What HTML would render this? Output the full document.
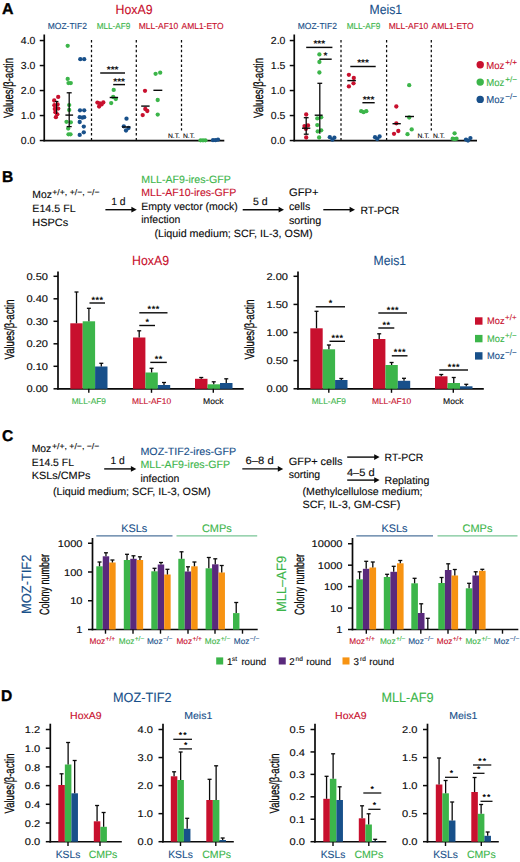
<!DOCTYPE html>
<html lang="en"><head><meta charset="utf-8"><title>Figure</title>
<style>
html,body{margin:0;padding:0;background:#fff;}
svg{display:block;font-family:"Liberation Sans",sans-serif;text-rendering:geometricPrecision;}
</style></head><body>
<svg width="520" height="862" viewBox="0 0 520 862">
<rect width="520" height="862" fill="#fff"/>
<text x="1.90" y="13.80" font-size="15.6" fill="#000" textLength="11.50" lengthAdjust="spacingAndGlyphs" font-weight="bold" stroke="#000" stroke-width="0.35">A</text>
<text x="115.50" y="13.90" font-size="13.2" fill="#C8102E" textLength="37.00" lengthAdjust="spacingAndGlyphs" stroke="#C8102E" stroke-width="0.12">HoxA9</text>
<text x="47.70" y="29.40" font-size="8.8" fill="#18508A" textLength="39.20" lengthAdjust="spacingAndGlyphs" stroke="#18508A" stroke-width="0.12">MOZ-TIF2</text>
<text x="96.70" y="29.40" font-size="8.8" fill="#3CB54A" textLength="33.70" lengthAdjust="spacingAndGlyphs" stroke="#3CB54A" stroke-width="0.12">MLL-AF9</text>
<text x="138.70" y="29.40" font-size="8.8" fill="#C8102E" textLength="39.60" lengthAdjust="spacingAndGlyphs" stroke="#C8102E" stroke-width="0.12">MLL-AF10</text>
<text x="181.50" y="29.40" font-size="8.8" fill="#C8102E" textLength="42.20" lengthAdjust="spacingAndGlyphs" stroke="#C8102E" stroke-width="0.12">AML1-ETO</text>
<line x1="44.25" y1="34.50" x2="44.25" y2="141.35" stroke="#0a0a0a" stroke-width="1.7"/>
<line x1="39.75" y1="40.55" x2="44.25" y2="40.55" stroke="#0a0a0a" stroke-width="1.5"/>
<text x="35.45" y="44.15" font-size="10.2" fill="#0a0a0a" text-anchor="end" textLength="14.60" lengthAdjust="spacingAndGlyphs" stroke="#0a0a0a" stroke-width="0.12">4.0</text>
<line x1="39.75" y1="65.55" x2="44.25" y2="65.55" stroke="#0a0a0a" stroke-width="1.5"/>
<text x="35.45" y="69.15" font-size="10.2" fill="#0a0a0a" text-anchor="end" textLength="14.60" lengthAdjust="spacingAndGlyphs" stroke="#0a0a0a" stroke-width="0.12">3.0</text>
<line x1="39.75" y1="90.55" x2="44.25" y2="90.55" stroke="#0a0a0a" stroke-width="1.5"/>
<text x="35.45" y="94.15" font-size="10.2" fill="#0a0a0a" text-anchor="end" textLength="14.60" lengthAdjust="spacingAndGlyphs" stroke="#0a0a0a" stroke-width="0.12">2.0</text>
<line x1="39.75" y1="115.55" x2="44.25" y2="115.55" stroke="#0a0a0a" stroke-width="1.5"/>
<text x="35.45" y="119.15" font-size="10.2" fill="#0a0a0a" text-anchor="end" textLength="14.60" lengthAdjust="spacingAndGlyphs" stroke="#0a0a0a" stroke-width="0.12">1.0</text>
<line x1="39.75" y1="140.55" x2="44.25" y2="140.55" stroke="#0a0a0a" stroke-width="1.5"/>
<text x="35.45" y="144.15" font-size="10.2" fill="#0a0a0a" text-anchor="end" textLength="14.60" lengthAdjust="spacingAndGlyphs" stroke="#0a0a0a" stroke-width="0.12">0.0</text>
<line x1="43.45" y1="140.55" x2="224.30" y2="140.55" stroke="#0a0a0a" stroke-width="1.65"/>
<text x="0" y="0" transform="translate(12.80 88.00) rotate(-90)" font-size="13.4" fill="#0a0a0a" text-anchor="middle" textLength="60.00" lengthAdjust="spacingAndGlyphs" stroke="#0a0a0a" stroke-width="0.3">Values/β-actin</text>
<line x1="91.50" y1="40.00" x2="91.50" y2="140.55" stroke="#0a0a0a" stroke-width="1.25" stroke-dasharray="2.5 2.4"/>
<line x1="136.30" y1="40.00" x2="136.30" y2="140.55" stroke="#0a0a0a" stroke-width="1.25" stroke-dasharray="2.5 2.4"/>
<line x1="181.50" y1="40.00" x2="181.50" y2="130.50" stroke="#0a0a0a" stroke-width="1.25" stroke-dasharray="2.5 2.4"/>
<circle cx="58.20" cy="96.90" r="2.15" fill="#C8102E"/>
<circle cx="54.20" cy="100.50" r="2.15" fill="#C8102E"/>
<circle cx="54.40" cy="105.20" r="2.15" fill="#C8102E"/>
<circle cx="58.20" cy="108.60" r="2.15" fill="#C8102E"/>
<circle cx="54.80" cy="109.00" r="2.15" fill="#C8102E"/>
<circle cx="55.40" cy="112.20" r="2.15" fill="#C8102E"/>
<circle cx="57.30" cy="114.30" r="2.15" fill="#C8102E"/>
<circle cx="55.90" cy="117.20" r="2.15" fill="#C8102E"/>
<circle cx="57.60" cy="104.50" r="2.15" fill="#C8102E"/>
<line x1="56.60" y1="101.50" x2="56.60" y2="114.00" stroke="#0a0a0a" stroke-width="1.2"/>
<line x1="54.90" y1="101.50" x2="58.40" y2="101.50" stroke="#0a0a0a" stroke-width="1.2"/>
<circle cx="67.70" cy="45.80" r="2.15" fill="#3CB54A"/>
<circle cx="67.70" cy="78.90" r="2.15" fill="#3CB54A"/>
<circle cx="68.50" cy="83.10" r="2.15" fill="#3CB54A"/>
<circle cx="70.80" cy="83.10" r="2.15" fill="#3CB54A"/>
<circle cx="69.20" cy="105.10" r="2.15" fill="#3CB54A"/>
<circle cx="69.20" cy="110.00" r="2.15" fill="#3CB54A"/>
<circle cx="66.50" cy="121.80" r="2.15" fill="#3CB54A"/>
<circle cx="70.80" cy="122.30" r="2.15" fill="#3CB54A"/>
<circle cx="68.20" cy="128.50" r="2.15" fill="#3CB54A"/>
<circle cx="68.50" cy="134.30" r="2.15" fill="#3CB54A"/>
<circle cx="70.50" cy="134.30" r="2.15" fill="#3CB54A"/>
<line x1="69.20" y1="92.80" x2="69.20" y2="126.60" stroke="#0a0a0a" stroke-width="1.3"/>
<line x1="66.70" y1="92.80" x2="71.70" y2="92.80" stroke="#0a0a0a" stroke-width="1.3"/>
<line x1="66.70" y1="126.60" x2="71.70" y2="126.60" stroke="#0a0a0a" stroke-width="1.3"/>
<line x1="65.40" y1="115.10" x2="73.10" y2="115.10" stroke="#0a0a0a" stroke-width="1.4"/>
<circle cx="80.30" cy="59.20" r="2.15" fill="#18508A"/>
<circle cx="84.20" cy="59.20" r="2.15" fill="#18508A"/>
<circle cx="80.00" cy="110.30" r="2.15" fill="#18508A"/>
<circle cx="84.20" cy="110.30" r="2.15" fill="#18508A"/>
<circle cx="79.70" cy="117.20" r="2.15" fill="#18508A"/>
<circle cx="82.30" cy="117.70" r="2.15" fill="#18508A"/>
<circle cx="84.20" cy="117.20" r="2.15" fill="#18508A"/>
<circle cx="79.70" cy="122.00" r="2.15" fill="#18508A"/>
<circle cx="83.80" cy="126.60" r="2.15" fill="#18508A"/>
<circle cx="83.80" cy="132.30" r="2.15" fill="#18508A"/>
<circle cx="79.70" cy="134.90" r="2.15" fill="#18508A"/>
<circle cx="97.40" cy="102.60" r="2.15" fill="#C8102E"/>
<circle cx="99.90" cy="103.40" r="2.15" fill="#C8102E"/>
<circle cx="103.30" cy="102.40" r="2.15" fill="#C8102E"/>
<circle cx="101.60" cy="104.40" r="2.15" fill="#C8102E"/>
<circle cx="99.10" cy="106.50" r="2.15" fill="#C8102E"/>
<circle cx="113.70" cy="89.90" r="2.15" fill="#3CB54A"/>
<circle cx="113.20" cy="97.00" r="2.15" fill="#3CB54A"/>
<circle cx="115.80" cy="99.00" r="2.15" fill="#3CB54A"/>
<circle cx="111.20" cy="103.10" r="2.15" fill="#3CB54A"/>
<line x1="109.70" y1="97.50" x2="118.10" y2="97.50" stroke="#0a0a0a" stroke-width="1.4"/>
<circle cx="126.50" cy="118.70" r="2.15" fill="#18508A"/>
<circle cx="123.80" cy="126.30" r="2.15" fill="#18508A"/>
<circle cx="128.50" cy="128.00" r="2.15" fill="#18508A"/>
<circle cx="126.00" cy="130.50" r="2.15" fill="#18508A"/>
<line x1="122.00" y1="127.00" x2="130.40" y2="127.00" stroke="#0a0a0a" stroke-width="1.4"/>
<line x1="100.20" y1="73.00" x2="125.00" y2="73.00" stroke="#0a0a0a" stroke-width="1.45"/>
<text x="112.60" y="72.90" font-size="10.0" fill="#0a0a0a" text-anchor="middle" font-weight="bold" textLength="11.69" lengthAdjust="spacing">***</text>
<line x1="113.20" y1="84.60" x2="125.00" y2="84.60" stroke="#0a0a0a" stroke-width="1.45"/>
<text x="119.10" y="84.50" font-size="10.0" fill="#0a0a0a" text-anchor="middle" font-weight="bold" textLength="11.69" lengthAdjust="spacing">***</text>
<circle cx="145.00" cy="90.80" r="2.15" fill="#C8102E"/>
<circle cx="145.30" cy="109.00" r="2.15" fill="#C8102E"/>
<circle cx="147.30" cy="111.00" r="2.15" fill="#C8102E"/>
<circle cx="142.70" cy="115.10" r="2.15" fill="#C8102E"/>
<line x1="141.20" y1="106.10" x2="149.60" y2="106.10" stroke="#0a0a0a" stroke-width="1.4"/>
<circle cx="155.60" cy="73.80" r="2.15" fill="#3CB54A"/>
<circle cx="160.20" cy="72.70" r="2.15" fill="#3CB54A"/>
<circle cx="157.70" cy="100.00" r="2.15" fill="#3CB54A"/>
<circle cx="157.70" cy="114.60" r="2.15" fill="#3CB54A"/>
<line x1="153.40" y1="90.30" x2="162.30" y2="90.30" stroke="#0a0a0a" stroke-width="1.4"/>
<text x="168.00" y="137.70" font-size="6.6" fill="#0a0a0a" textLength="12.00" lengthAdjust="spacingAndGlyphs" stroke="#0a0a0a" stroke-width="0.12">N.T.</text>
<text x="183.00" y="137.70" font-size="6.6" fill="#0a0a0a" textLength="12.00" lengthAdjust="spacingAndGlyphs" stroke="#0a0a0a" stroke-width="0.12">N.T.</text>
<circle cx="200.60" cy="140.30" r="2.15" fill="#3CB54A"/>
<circle cx="203.00" cy="140.30" r="2.15" fill="#3CB54A"/>
<circle cx="205.40" cy="140.30" r="2.15" fill="#3CB54A"/>
<circle cx="213.00" cy="140.20" r="2.15" fill="#18508A"/>
<circle cx="215.50" cy="140.20" r="2.15" fill="#18508A"/>
<circle cx="218.00" cy="139.60" r="2.15" fill="#18508A"/>
<text x="369.50" y="13.90" font-size="13.2" fill="#18508A" textLength="32.50" lengthAdjust="spacingAndGlyphs" stroke="#18508A" stroke-width="0.12">Meis1</text>
<text x="297.70" y="29.40" font-size="8.8" fill="#18508A" textLength="39.20" lengthAdjust="spacingAndGlyphs" stroke="#18508A" stroke-width="0.12">MOZ-TIF2</text>
<text x="346.70" y="29.40" font-size="8.8" fill="#3CB54A" textLength="33.70" lengthAdjust="spacingAndGlyphs" stroke="#3CB54A" stroke-width="0.12">MLL-AF9</text>
<text x="388.70" y="29.40" font-size="8.8" fill="#C8102E" textLength="39.60" lengthAdjust="spacingAndGlyphs" stroke="#C8102E" stroke-width="0.12">MLL-AF10</text>
<text x="431.50" y="29.40" font-size="8.8" fill="#C8102E" textLength="42.20" lengthAdjust="spacingAndGlyphs" stroke="#C8102E" stroke-width="0.12">AML1-ETO</text>
<line x1="294.25" y1="34.50" x2="294.25" y2="141.35" stroke="#0a0a0a" stroke-width="1.7"/>
<line x1="289.75" y1="40.55" x2="294.25" y2="40.55" stroke="#0a0a0a" stroke-width="1.5"/>
<text x="285.45" y="44.15" font-size="10.2" fill="#0a0a0a" text-anchor="end" textLength="14.60" lengthAdjust="spacingAndGlyphs" stroke="#0a0a0a" stroke-width="0.12">2.0</text>
<line x1="289.75" y1="65.55" x2="294.25" y2="65.55" stroke="#0a0a0a" stroke-width="1.5"/>
<text x="285.45" y="69.15" font-size="10.2" fill="#0a0a0a" text-anchor="end" textLength="14.60" lengthAdjust="spacingAndGlyphs" stroke="#0a0a0a" stroke-width="0.12">1.5</text>
<line x1="289.75" y1="90.55" x2="294.25" y2="90.55" stroke="#0a0a0a" stroke-width="1.5"/>
<text x="285.45" y="94.15" font-size="10.2" fill="#0a0a0a" text-anchor="end" textLength="14.60" lengthAdjust="spacingAndGlyphs" stroke="#0a0a0a" stroke-width="0.12">1.0</text>
<line x1="289.75" y1="115.55" x2="294.25" y2="115.55" stroke="#0a0a0a" stroke-width="1.5"/>
<text x="285.45" y="119.15" font-size="10.2" fill="#0a0a0a" text-anchor="end" textLength="14.60" lengthAdjust="spacingAndGlyphs" stroke="#0a0a0a" stroke-width="0.12">0.5</text>
<line x1="289.75" y1="140.55" x2="294.25" y2="140.55" stroke="#0a0a0a" stroke-width="1.5"/>
<text x="285.45" y="144.15" font-size="10.2" fill="#0a0a0a" text-anchor="end" textLength="14.60" lengthAdjust="spacingAndGlyphs" stroke="#0a0a0a" stroke-width="0.12">0.0</text>
<line x1="293.45" y1="140.55" x2="477.00" y2="140.55" stroke="#0a0a0a" stroke-width="1.65"/>
<text x="0" y="0" transform="translate(262.80 88.00) rotate(-90)" font-size="13.4" fill="#0a0a0a" text-anchor="middle" textLength="60.00" lengthAdjust="spacingAndGlyphs" stroke="#0a0a0a" stroke-width="0.3">Values/β-actin</text>
<line x1="341.00" y1="40.00" x2="341.00" y2="140.55" stroke="#0a0a0a" stroke-width="1.25" stroke-dasharray="2.5 2.4"/>
<line x1="386.60" y1="40.00" x2="386.60" y2="140.55" stroke="#0a0a0a" stroke-width="1.25" stroke-dasharray="2.5 2.4"/>
<line x1="431.30" y1="40.00" x2="431.30" y2="130.50" stroke="#0a0a0a" stroke-width="1.25" stroke-dasharray="2.5 2.4"/>
<circle cx="306.20" cy="114.50" r="2.15" fill="#C8102E"/>
<circle cx="304.50" cy="126.10" r="2.15" fill="#C8102E"/>
<circle cx="308.00" cy="125.40" r="2.15" fill="#C8102E"/>
<circle cx="305.90" cy="128.90" r="2.15" fill="#C8102E"/>
<circle cx="306.20" cy="137.50" r="2.15" fill="#C8102E"/>
<line x1="306.20" y1="117.70" x2="306.20" y2="134.20" stroke="#0a0a0a" stroke-width="1.3"/>
<line x1="303.80" y1="117.70" x2="308.60" y2="117.70" stroke="#0a0a0a" stroke-width="1.3"/>
<line x1="303.80" y1="134.20" x2="308.60" y2="134.20" stroke="#0a0a0a" stroke-width="1.3"/>
<line x1="302.00" y1="128.20" x2="310.30" y2="128.20" stroke="#0a0a0a" stroke-width="1.4"/>
<circle cx="319.40" cy="54.40" r="2.15" fill="#3CB54A"/>
<circle cx="319.40" cy="62.00" r="2.15" fill="#3CB54A"/>
<circle cx="319.40" cy="72.50" r="2.15" fill="#3CB54A"/>
<circle cx="317.30" cy="118.40" r="2.15" fill="#3CB54A"/>
<circle cx="321.20" cy="117.30" r="2.15" fill="#3CB54A"/>
<circle cx="317.30" cy="125.10" r="2.15" fill="#3CB54A"/>
<circle cx="317.70" cy="131.40" r="2.15" fill="#3CB54A"/>
<circle cx="321.20" cy="130.30" r="2.15" fill="#3CB54A"/>
<circle cx="319.10" cy="137.50" r="2.15" fill="#3CB54A"/>
<line x1="319.80" y1="83.30" x2="319.80" y2="133.80" stroke="#0a0a0a" stroke-width="1.3"/>
<line x1="317.40" y1="83.30" x2="322.20" y2="83.30" stroke="#0a0a0a" stroke-width="1.3"/>
<line x1="314.70" y1="115.20" x2="322.60" y2="115.20" stroke="#0a0a0a" stroke-width="1.4"/>
<circle cx="329.80" cy="137.20" r="2.15" fill="#18508A"/>
<circle cx="334.40" cy="137.70" r="2.15" fill="#18508A"/>
<circle cx="332.40" cy="139.70" r="2.15" fill="#18508A"/>
<line x1="306.20" y1="47.40" x2="332.40" y2="47.40" stroke="#0a0a0a" stroke-width="1.45"/>
<text x="319.30" y="47.30" font-size="10.0" fill="#0a0a0a" text-anchor="middle" font-weight="bold" textLength="11.69" lengthAdjust="spacing">***</text>
<line x1="319.40" y1="59.20" x2="331.70" y2="59.20" stroke="#0a0a0a" stroke-width="1.45"/>
<text x="325.55" y="59.10" font-size="10.0" fill="#0a0a0a" text-anchor="middle" font-weight="bold">*</text>
<circle cx="348.90" cy="74.80" r="2.15" fill="#C8102E"/>
<circle cx="353.80" cy="78.00" r="2.15" fill="#C8102E"/>
<circle cx="353.50" cy="83.30" r="2.15" fill="#C8102E"/>
<circle cx="348.90" cy="86.40" r="2.15" fill="#C8102E"/>
<line x1="347.30" y1="80.60" x2="355.90" y2="80.60" stroke="#0a0a0a" stroke-width="1.4"/>
<circle cx="361.20" cy="111.20" r="2.15" fill="#3CB54A"/>
<circle cx="363.60" cy="112.20" r="2.15" fill="#3CB54A"/>
<circle cx="366.30" cy="111.20" r="2.15" fill="#3CB54A"/>
<circle cx="375.00" cy="137.20" r="2.15" fill="#18508A"/>
<circle cx="379.60" cy="136.50" r="2.15" fill="#18508A"/>
<circle cx="377.20" cy="139.00" r="2.15" fill="#18508A"/>
<line x1="350.30" y1="66.50" x2="375.70" y2="66.50" stroke="#0a0a0a" stroke-width="1.45"/>
<text x="363.00" y="66.40" font-size="10.0" fill="#0a0a0a" text-anchor="middle" font-weight="bold" textLength="11.69" lengthAdjust="spacing">***</text>
<line x1="362.40" y1="102.70" x2="374.70" y2="102.70" stroke="#0a0a0a" stroke-width="1.45"/>
<text x="368.55" y="102.60" font-size="10.0" fill="#0a0a0a" text-anchor="middle" font-weight="bold" textLength="11.69" lengthAdjust="spacing">***</text>
<circle cx="396.30" cy="106.50" r="2.15" fill="#C8102E"/>
<circle cx="396.30" cy="123.30" r="2.15" fill="#C8102E"/>
<circle cx="398.30" cy="131.00" r="2.15" fill="#C8102E"/>
<circle cx="394.00" cy="133.80" r="2.15" fill="#C8102E"/>
<line x1="392.50" y1="123.70" x2="400.80" y2="123.70" stroke="#0a0a0a" stroke-width="1.4"/>
<circle cx="409.20" cy="85.20" r="2.15" fill="#3CB54A"/>
<circle cx="409.20" cy="117.50" r="2.15" fill="#3CB54A"/>
<circle cx="411.70" cy="129.40" r="2.15" fill="#3CB54A"/>
<circle cx="407.50" cy="134.20" r="2.15" fill="#3CB54A"/>
<line x1="405.00" y1="116.50" x2="414.00" y2="116.50" stroke="#0a0a0a" stroke-width="1.4"/>
<text x="417.50" y="137.70" font-size="6.6" fill="#0a0a0a" textLength="12.00" lengthAdjust="spacingAndGlyphs" stroke="#0a0a0a" stroke-width="0.12">N.T.</text>
<text x="432.90" y="137.70" font-size="6.6" fill="#0a0a0a" textLength="12.00" lengthAdjust="spacingAndGlyphs" stroke="#0a0a0a" stroke-width="0.12">N.T.</text>
<circle cx="454.60" cy="133.30" r="2.15" fill="#3CB54A"/>
<circle cx="452.70" cy="138.70" r="2.15" fill="#3CB54A"/>
<circle cx="456.50" cy="138.70" r="2.15" fill="#3CB54A"/>
<circle cx="454.60" cy="139.20" r="2.15" fill="#3CB54A"/>
<circle cx="466.00" cy="139.60" r="2.15" fill="#18508A"/>
<circle cx="470.40" cy="138.10" r="2.15" fill="#18508A"/>
<circle cx="468.00" cy="140.60" r="2.15" fill="#18508A"/>
<circle cx="480.20" cy="64.80" r="3.7" fill="#C8102E"/>
<text x="486.30" y="68.80" font-size="10.2" fill="#C8102E" textLength="18.10" lengthAdjust="spacingAndGlyphs" stroke="#C8102E" stroke-width="0.12">Moz</text>
<text x="505.20" y="64.72" font-size="8" fill="#C8102E" textLength="11.80" lengthAdjust="spacingAndGlyphs" stroke="#C8102E" stroke-width="0.12">+/+</text>
<circle cx="480.20" cy="82.10" r="3.7" fill="#3CB54A"/>
<text x="486.30" y="86.10" font-size="10.2" fill="#3CB54A" textLength="18.10" lengthAdjust="spacingAndGlyphs" stroke="#3CB54A" stroke-width="0.12">Moz</text>
<text x="505.20" y="82.02" font-size="8" fill="#3CB54A" textLength="11.80" lengthAdjust="spacingAndGlyphs" stroke="#3CB54A" stroke-width="0.12">+/−</text>
<circle cx="480.20" cy="99.40" r="3.7" fill="#18508A"/>
<text x="486.30" y="103.40" font-size="10.2" fill="#18508A" textLength="18.10" lengthAdjust="spacingAndGlyphs" stroke="#18508A" stroke-width="0.12">Moz</text>
<text x="505.20" y="99.32" font-size="8" fill="#18508A" textLength="11.80" lengthAdjust="spacingAndGlyphs" stroke="#18508A" stroke-width="0.12">−/−</text>
<text x="2.00" y="182.00" font-size="15.6" fill="#000" font-weight="bold" stroke="#000" stroke-width="0.35">B</text>
<text x="32.30" y="198.45" font-size="10.55" fill="#0a0a0a" textLength="19.60" lengthAdjust="spacingAndGlyphs" stroke="#0a0a0a" stroke-width="0.12">Moz</text>
<text x="52.30" y="194.80" font-size="8.4" fill="#0a0a0a" textLength="47.30" lengthAdjust="spacingAndGlyphs" stroke="#0a0a0a" stroke-width="0.12">+/+, +/−, −/−</text>
<text x="32.30" y="212.15" font-size="10.55" fill="#0a0a0a" textLength="43.30" lengthAdjust="spacingAndGlyphs" stroke="#0a0a0a" stroke-width="0.12">E14.5 FL</text>
<text x="32.30" y="225.65" font-size="10.55" fill="#0a0a0a" textLength="36.00" lengthAdjust="spacingAndGlyphs" stroke="#0a0a0a" stroke-width="0.12">HSPCs</text>
<line x1="105.40" y1="209.70" x2="133.80" y2="209.70" stroke="#0a0a0a" stroke-width="1.4"/>
<path d="M136.80 209.70 L131.40 206.80 L131.40 212.60 Z" fill="#0a0a0a"/>
<text x="111.20" y="204.80" font-size="10.55" fill="#0a0a0a" textLength="14.40" lengthAdjust="spacingAndGlyphs" stroke="#0a0a0a" stroke-width="0.12">1 d</text>
<text x="141.30" y="182.70" font-size="10.55" fill="#3CB54A" textLength="89.60" lengthAdjust="spacingAndGlyphs" stroke="#3CB54A" stroke-width="0.12">MLL-AF9-ires-GFP</text>
<text x="141.30" y="196.20" font-size="10.55" fill="#C8102E" textLength="94.90" lengthAdjust="spacingAndGlyphs" stroke="#C8102E" stroke-width="0.12">MLL-AF10-ires-GFP</text>
<text x="141.30" y="209.70" font-size="10.55" fill="#0a0a0a" textLength="96.40" lengthAdjust="spacingAndGlyphs" stroke="#0a0a0a" stroke-width="0.12">Empty vector (mock)</text>
<text x="141.30" y="223.20" font-size="10.55" fill="#0a0a0a" textLength="39.00" lengthAdjust="spacingAndGlyphs" stroke="#0a0a0a" stroke-width="0.12">infection</text>
<text x="154.40" y="237.05" font-size="10.55" fill="#0a0a0a" textLength="158.20" lengthAdjust="spacingAndGlyphs" stroke="#0a0a0a" stroke-width="0.12">(Liquid medium; SCF, IL-3, OSM)</text>
<line x1="242.70" y1="209.70" x2="281.00" y2="209.70" stroke="#0a0a0a" stroke-width="1.4"/>
<path d="M284.00 209.70 L278.60 206.80 L278.60 212.60 Z" fill="#0a0a0a"/>
<text x="252.90" y="205.05" font-size="10.55" fill="#0a0a0a" textLength="14.60" lengthAdjust="spacingAndGlyphs" stroke="#0a0a0a" stroke-width="0.12">5 d</text>
<text x="289.00" y="196.00" font-size="11" fill="#0a0a0a" textLength="29.60" lengthAdjust="spacingAndGlyphs" stroke="#0a0a0a" stroke-width="0.12">GFP+</text>
<text x="289.00" y="210.25" font-size="10.55" fill="#0a0a0a" textLength="21.20" lengthAdjust="spacingAndGlyphs" stroke="#0a0a0a" stroke-width="0.12">cells</text>
<text x="289.00" y="223.65" font-size="10.55" fill="#0a0a0a" textLength="32.20" lengthAdjust="spacingAndGlyphs" stroke="#0a0a0a" stroke-width="0.12">sorting</text>
<line x1="323.30" y1="209.70" x2="352.00" y2="209.70" stroke="#0a0a0a" stroke-width="1.4"/>
<path d="M355.00 209.70 L349.60 206.80 L349.60 212.60 Z" fill="#0a0a0a"/>
<text x="360.50" y="213.75" font-size="10.55" fill="#0a0a0a" textLength="38.80" lengthAdjust="spacingAndGlyphs" stroke="#0a0a0a" stroke-width="0.12">RT-PCR</text>
<text x="132.10" y="265.00" font-size="13.2" fill="#C8102E" textLength="37.00" lengthAdjust="spacingAndGlyphs" stroke="#C8102E" stroke-width="0.12">HoxA9</text>
<line x1="58.00" y1="271.50" x2="58.00" y2="389.60" stroke="#0a0a0a" stroke-width="1.7"/>
<line x1="53.50" y1="276.30" x2="58.00" y2="276.30" stroke="#0a0a0a" stroke-width="1.5"/>
<text x="48.00" y="279.90" font-size="9.8" fill="#0a0a0a" text-anchor="end" textLength="21.60" lengthAdjust="spacingAndGlyphs" stroke="#0a0a0a" stroke-width="0.12">0.50</text>
<line x1="53.50" y1="298.80" x2="58.00" y2="298.80" stroke="#0a0a0a" stroke-width="1.5"/>
<text x="48.00" y="302.40" font-size="9.8" fill="#0a0a0a" text-anchor="end" textLength="21.60" lengthAdjust="spacingAndGlyphs" stroke="#0a0a0a" stroke-width="0.12">0.40</text>
<line x1="53.50" y1="321.30" x2="58.00" y2="321.30" stroke="#0a0a0a" stroke-width="1.5"/>
<text x="48.00" y="324.90" font-size="9.8" fill="#0a0a0a" text-anchor="end" textLength="21.60" lengthAdjust="spacingAndGlyphs" stroke="#0a0a0a" stroke-width="0.12">0.30</text>
<line x1="53.50" y1="343.80" x2="58.00" y2="343.80" stroke="#0a0a0a" stroke-width="1.5"/>
<text x="48.00" y="347.40" font-size="9.8" fill="#0a0a0a" text-anchor="end" textLength="21.60" lengthAdjust="spacingAndGlyphs" stroke="#0a0a0a" stroke-width="0.12">0.20</text>
<line x1="53.50" y1="366.30" x2="58.00" y2="366.30" stroke="#0a0a0a" stroke-width="1.5"/>
<text x="48.00" y="369.90" font-size="9.8" fill="#0a0a0a" text-anchor="end" textLength="21.60" lengthAdjust="spacingAndGlyphs" stroke="#0a0a0a" stroke-width="0.12">0.10</text>
<line x1="53.50" y1="388.80" x2="58.00" y2="388.80" stroke="#0a0a0a" stroke-width="1.5"/>
<text x="48.00" y="392.40" font-size="9.8" fill="#0a0a0a" text-anchor="end" textLength="21.60" lengthAdjust="spacingAndGlyphs" stroke="#0a0a0a" stroke-width="0.12">0.00</text>
<line x1="57.20" y1="388.80" x2="243.70" y2="388.80" stroke="#0a0a0a" stroke-width="1.65"/>
<text x="0" y="0" transform="translate(13.90 329.50) rotate(-90)" font-size="13.4" fill="#0a0a0a" text-anchor="middle" textLength="60.00" lengthAdjust="spacingAndGlyphs" stroke="#0a0a0a" stroke-width="0.3">Values/β-actin</text>
<rect x="70.30" y="323.30" width="12.40" height="65.50" fill="#C8102E"/>
<line x1="76.50" y1="292.00" x2="76.50" y2="323.30" stroke="#0a0a0a" stroke-width="1.3"/>
<line x1="74.50" y1="292.00" x2="78.50" y2="292.00" stroke="#0a0a0a" stroke-width="1.3"/>
<rect x="82.70" y="321.30" width="12.40" height="67.50" fill="#3CB54A"/>
<line x1="88.90" y1="308.30" x2="88.90" y2="321.30" stroke="#0a0a0a" stroke-width="1.3"/>
<line x1="86.90" y1="308.30" x2="90.90" y2="308.30" stroke="#0a0a0a" stroke-width="1.3"/>
<rect x="95.10" y="366.50" width="12.40" height="22.30" fill="#18508A"/>
<line x1="101.30" y1="363.30" x2="101.30" y2="366.50" stroke="#0a0a0a" stroke-width="1.3"/>
<line x1="99.30" y1="363.30" x2="103.30" y2="363.30" stroke="#0a0a0a" stroke-width="1.3"/>
<rect x="133.00" y="337.50" width="12.40" height="51.30" fill="#C8102E"/>
<line x1="139.20" y1="330.80" x2="139.20" y2="337.50" stroke="#0a0a0a" stroke-width="1.3"/>
<line x1="137.20" y1="330.80" x2="141.20" y2="330.80" stroke="#0a0a0a" stroke-width="1.3"/>
<rect x="145.40" y="372.50" width="12.40" height="16.30" fill="#3CB54A"/>
<line x1="151.60" y1="368.30" x2="151.60" y2="372.50" stroke="#0a0a0a" stroke-width="1.3"/>
<line x1="149.60" y1="368.30" x2="153.60" y2="368.30" stroke="#0a0a0a" stroke-width="1.3"/>
<rect x="157.80" y="385.00" width="12.40" height="3.80" fill="#18508A"/>
<line x1="164.00" y1="382.50" x2="164.00" y2="385.00" stroke="#0a0a0a" stroke-width="1.3"/>
<line x1="162.00" y1="382.50" x2="166.00" y2="382.50" stroke="#0a0a0a" stroke-width="1.3"/>
<rect x="195.00" y="378.80" width="12.50" height="10.00" fill="#C8102E"/>
<line x1="201.25" y1="377.50" x2="201.25" y2="378.80" stroke="#0a0a0a" stroke-width="1.3"/>
<line x1="199.25" y1="377.50" x2="203.25" y2="377.50" stroke="#0a0a0a" stroke-width="1.3"/>
<rect x="207.50" y="384.30" width="12.50" height="4.50" fill="#3CB54A"/>
<line x1="213.75" y1="381.80" x2="213.75" y2="384.30" stroke="#0a0a0a" stroke-width="1.3"/>
<line x1="211.75" y1="381.80" x2="215.75" y2="381.80" stroke="#0a0a0a" stroke-width="1.3"/>
<rect x="220.00" y="383.00" width="12.50" height="5.80" fill="#18508A"/>
<line x1="226.25" y1="378.80" x2="226.25" y2="383.00" stroke="#0a0a0a" stroke-width="1.3"/>
<line x1="224.25" y1="378.80" x2="228.25" y2="378.80" stroke="#0a0a0a" stroke-width="1.3"/>
<line x1="88.80" y1="388.80" x2="88.80" y2="392.80" stroke="#0a0a0a" stroke-width="1.4"/>
<line x1="151.50" y1="388.80" x2="151.50" y2="392.80" stroke="#0a0a0a" stroke-width="1.4"/>
<line x1="213.30" y1="388.80" x2="213.30" y2="392.80" stroke="#0a0a0a" stroke-width="1.4"/>
<text x="88.80" y="403.60" font-size="8.3" fill="#3CB54A" text-anchor="middle" textLength="34.30" lengthAdjust="spacingAndGlyphs" stroke="#3CB54A" stroke-width="0.12">MLL-AF9</text>
<text x="151.50" y="403.60" font-size="8.3" fill="#C8102E" text-anchor="middle" textLength="39.20" lengthAdjust="spacingAndGlyphs" stroke="#C8102E" stroke-width="0.12">MLL-AF10</text>
<text x="213.30" y="403.60" font-size="8.3" fill="#0a0a0a" text-anchor="middle" textLength="20.50" lengthAdjust="spacingAndGlyphs" stroke="#0a0a0a" stroke-width="0.12">Mock</text>
<line x1="89.50" y1="303.00" x2="105.00" y2="303.00" stroke="#0a0a0a" stroke-width="1.4"/>
<text x="97.25" y="302.50" font-size="9.0" fill="#0a0a0a" text-anchor="middle" font-weight="bold" textLength="11.70" lengthAdjust="spacing">***</text>
<line x1="139.30" y1="312.80" x2="167.50" y2="312.80" stroke="#0a0a0a" stroke-width="1.4"/>
<text x="153.40" y="312.30" font-size="9.0" fill="#0a0a0a" text-anchor="middle" font-weight="bold" textLength="11.70" lengthAdjust="spacing">***</text>
<line x1="139.30" y1="325.50" x2="155.00" y2="325.50" stroke="#0a0a0a" stroke-width="1.4"/>
<text x="147.15" y="325.00" font-size="9.0" fill="#0a0a0a" text-anchor="middle" font-weight="bold">*</text>
<line x1="150.30" y1="362.40" x2="166.80" y2="362.40" stroke="#0a0a0a" stroke-width="1.4"/>
<text x="158.55" y="361.90" font-size="9.0" fill="#0a0a0a" text-anchor="middle" font-weight="bold" textLength="7.60" lengthAdjust="spacing">**</text>
<text x="373.50" y="265.00" font-size="13.2" fill="#18508A" textLength="32.50" lengthAdjust="spacingAndGlyphs" stroke="#18508A" stroke-width="0.12">Meis1</text>
<line x1="298.00" y1="271.50" x2="298.00" y2="389.60" stroke="#0a0a0a" stroke-width="1.7"/>
<line x1="293.50" y1="276.30" x2="298.00" y2="276.30" stroke="#0a0a0a" stroke-width="1.5"/>
<text x="288.00" y="279.90" font-size="9.8" fill="#0a0a0a" text-anchor="end" textLength="21.60" lengthAdjust="spacingAndGlyphs" stroke="#0a0a0a" stroke-width="0.12">2.00</text>
<line x1="293.50" y1="304.42" x2="298.00" y2="304.42" stroke="#0a0a0a" stroke-width="1.5"/>
<text x="288.00" y="308.02" font-size="9.8" fill="#0a0a0a" text-anchor="end" textLength="21.60" lengthAdjust="spacingAndGlyphs" stroke="#0a0a0a" stroke-width="0.12">1.50</text>
<line x1="293.50" y1="332.54" x2="298.00" y2="332.54" stroke="#0a0a0a" stroke-width="1.5"/>
<text x="288.00" y="336.14" font-size="9.8" fill="#0a0a0a" text-anchor="end" textLength="21.60" lengthAdjust="spacingAndGlyphs" stroke="#0a0a0a" stroke-width="0.12">1.00</text>
<line x1="293.50" y1="360.66" x2="298.00" y2="360.66" stroke="#0a0a0a" stroke-width="1.5"/>
<text x="288.00" y="364.26" font-size="9.8" fill="#0a0a0a" text-anchor="end" textLength="21.60" lengthAdjust="spacingAndGlyphs" stroke="#0a0a0a" stroke-width="0.12">0.50</text>
<line x1="293.50" y1="388.78" x2="298.00" y2="388.78" stroke="#0a0a0a" stroke-width="1.5"/>
<text x="288.00" y="392.38" font-size="9.8" fill="#0a0a0a" text-anchor="end" textLength="21.60" lengthAdjust="spacingAndGlyphs" stroke="#0a0a0a" stroke-width="0.12">0.00</text>
<line x1="297.20" y1="388.80" x2="483.80" y2="388.80" stroke="#0a0a0a" stroke-width="1.65"/>
<text x="0" y="0" transform="translate(253.90 329.50) rotate(-90)" font-size="13.4" fill="#0a0a0a" text-anchor="middle" textLength="60.00" lengthAdjust="spacingAndGlyphs" stroke="#0a0a0a" stroke-width="0.3">Values/β-actin</text>
<rect x="310.30" y="328.30" width="12.40" height="60.50" fill="#C8102E"/>
<line x1="316.50" y1="311.30" x2="316.50" y2="328.30" stroke="#0a0a0a" stroke-width="1.3"/>
<line x1="314.50" y1="311.30" x2="318.50" y2="311.30" stroke="#0a0a0a" stroke-width="1.3"/>
<rect x="322.70" y="349.30" width="12.40" height="39.50" fill="#3CB54A"/>
<line x1="328.90" y1="345.00" x2="328.90" y2="349.30" stroke="#0a0a0a" stroke-width="1.3"/>
<line x1="326.90" y1="345.00" x2="330.90" y2="345.00" stroke="#0a0a0a" stroke-width="1.3"/>
<rect x="335.10" y="380.00" width="12.40" height="8.80" fill="#18508A"/>
<line x1="341.30" y1="378.50" x2="341.30" y2="380.00" stroke="#0a0a0a" stroke-width="1.3"/>
<line x1="339.30" y1="378.50" x2="343.30" y2="378.50" stroke="#0a0a0a" stroke-width="1.3"/>
<rect x="373.00" y="339.00" width="12.40" height="49.80" fill="#C8102E"/>
<line x1="379.20" y1="333.80" x2="379.20" y2="339.00" stroke="#0a0a0a" stroke-width="1.3"/>
<line x1="377.20" y1="333.80" x2="381.20" y2="333.80" stroke="#0a0a0a" stroke-width="1.3"/>
<rect x="385.40" y="365.00" width="12.40" height="23.80" fill="#3CB54A"/>
<line x1="391.60" y1="362.50" x2="391.60" y2="365.00" stroke="#0a0a0a" stroke-width="1.3"/>
<line x1="389.60" y1="362.50" x2="393.60" y2="362.50" stroke="#0a0a0a" stroke-width="1.3"/>
<rect x="397.80" y="380.80" width="12.40" height="8.00" fill="#18508A"/>
<line x1="404.00" y1="378.30" x2="404.00" y2="380.80" stroke="#0a0a0a" stroke-width="1.3"/>
<line x1="402.00" y1="378.30" x2="406.00" y2="378.30" stroke="#0a0a0a" stroke-width="1.3"/>
<rect x="435.00" y="376.30" width="12.50" height="12.50" fill="#C8102E"/>
<line x1="441.25" y1="374.50" x2="441.25" y2="376.30" stroke="#0a0a0a" stroke-width="1.3"/>
<line x1="439.25" y1="374.50" x2="443.25" y2="374.50" stroke="#0a0a0a" stroke-width="1.3"/>
<rect x="447.50" y="383.00" width="12.50" height="5.80" fill="#3CB54A"/>
<line x1="453.75" y1="377.50" x2="453.75" y2="383.00" stroke="#0a0a0a" stroke-width="1.3"/>
<line x1="451.75" y1="377.50" x2="455.75" y2="377.50" stroke="#0a0a0a" stroke-width="1.3"/>
<rect x="460.00" y="386.30" width="12.50" height="2.50" fill="#18508A"/>
<line x1="466.25" y1="384.30" x2="466.25" y2="386.30" stroke="#0a0a0a" stroke-width="1.3"/>
<line x1="464.25" y1="384.30" x2="468.25" y2="384.30" stroke="#0a0a0a" stroke-width="1.3"/>
<line x1="328.80" y1="388.80" x2="328.80" y2="392.80" stroke="#0a0a0a" stroke-width="1.4"/>
<line x1="391.50" y1="388.80" x2="391.50" y2="392.80" stroke="#0a0a0a" stroke-width="1.4"/>
<line x1="453.30" y1="388.80" x2="453.30" y2="392.80" stroke="#0a0a0a" stroke-width="1.4"/>
<text x="328.80" y="403.60" font-size="8.3" fill="#3CB54A" text-anchor="middle" textLength="34.30" lengthAdjust="spacingAndGlyphs" stroke="#3CB54A" stroke-width="0.12">MLL-AF9</text>
<text x="391.50" y="403.60" font-size="8.3" fill="#C8102E" text-anchor="middle" textLength="39.20" lengthAdjust="spacingAndGlyphs" stroke="#C8102E" stroke-width="0.12">MLL-AF10</text>
<text x="453.30" y="403.60" font-size="8.3" fill="#0a0a0a" text-anchor="middle" textLength="20.50" lengthAdjust="spacingAndGlyphs" stroke="#0a0a0a" stroke-width="0.12">Mock</text>
<line x1="315.80" y1="306.80" x2="345.00" y2="306.80" stroke="#0a0a0a" stroke-width="1.4"/>
<text x="330.40" y="306.30" font-size="9.0" fill="#0a0a0a" text-anchor="middle" font-weight="bold">*</text>
<line x1="329.50" y1="341.30" x2="345.00" y2="341.30" stroke="#0a0a0a" stroke-width="1.4"/>
<text x="337.25" y="340.80" font-size="9.0" fill="#0a0a0a" text-anchor="middle" font-weight="bold" textLength="11.70" lengthAdjust="spacing">***</text>
<line x1="378.30" y1="313.00" x2="407.00" y2="313.00" stroke="#0a0a0a" stroke-width="1.4"/>
<text x="392.65" y="312.50" font-size="9.0" fill="#0a0a0a" text-anchor="middle" font-weight="bold" textLength="11.70" lengthAdjust="spacing">***</text>
<line x1="378.30" y1="328.00" x2="394.30" y2="328.00" stroke="#0a0a0a" stroke-width="1.4"/>
<text x="386.30" y="327.50" font-size="9.0" fill="#0a0a0a" text-anchor="middle" font-weight="bold" textLength="7.60" lengthAdjust="spacing">**</text>
<line x1="391.80" y1="355.80" x2="407.50" y2="355.80" stroke="#0a0a0a" stroke-width="1.4"/>
<text x="399.65" y="355.30" font-size="9.0" fill="#0a0a0a" text-anchor="middle" font-weight="bold" textLength="11.70" lengthAdjust="spacing">***</text>
<line x1="439.30" y1="370.00" x2="468.00" y2="370.00" stroke="#0a0a0a" stroke-width="1.4"/>
<text x="453.65" y="369.50" font-size="9.0" fill="#0a0a0a" text-anchor="middle" font-weight="bold" textLength="11.70" lengthAdjust="spacing">***</text>
<rect x="475.00" y="317.30" width="7.50" height="7.40" fill="#C8102E"/>
<text x="487.00" y="324.30" font-size="9.6" fill="#C8102E" textLength="17.60" lengthAdjust="spacingAndGlyphs" stroke="#C8102E" stroke-width="0.12">Moz</text>
<text x="505.10" y="319.98" font-size="7.8" fill="#C8102E" textLength="11.40" lengthAdjust="spacingAndGlyphs" stroke="#C8102E" stroke-width="0.12">+/+</text>
<rect x="475.00" y="334.90" width="7.50" height="7.40" fill="#3CB54A"/>
<text x="487.00" y="341.90" font-size="9.6" fill="#3CB54A" textLength="17.60" lengthAdjust="spacingAndGlyphs" stroke="#3CB54A" stroke-width="0.12">Moz</text>
<text x="505.10" y="337.58" font-size="7.8" fill="#3CB54A" textLength="11.40" lengthAdjust="spacingAndGlyphs" stroke="#3CB54A" stroke-width="0.12">+/−</text>
<rect x="475.00" y="352.20" width="7.50" height="7.40" fill="#18508A"/>
<text x="487.00" y="359.20" font-size="9.6" fill="#18508A" textLength="17.60" lengthAdjust="spacingAndGlyphs" stroke="#18508A" stroke-width="0.12">Moz</text>
<text x="505.10" y="354.88" font-size="7.8" fill="#18508A" textLength="11.40" lengthAdjust="spacingAndGlyphs" stroke="#18508A" stroke-width="0.12">−/−</text>
<text x="2.00" y="441.40" font-size="15.6" fill="#000" font-weight="bold" stroke="#000" stroke-width="0.35">C</text>
<text x="31.70" y="452.45" font-size="10.55" fill="#0a0a0a" textLength="19.60" lengthAdjust="spacingAndGlyphs" stroke="#0a0a0a" stroke-width="0.12">Moz</text>
<text x="52.00" y="448.80" font-size="8.4" fill="#0a0a0a" textLength="47.30" lengthAdjust="spacingAndGlyphs" stroke="#0a0a0a" stroke-width="0.12">+/+, +/−, −/−</text>
<text x="31.70" y="465.95" font-size="10.55" fill="#0a0a0a" textLength="42.30" lengthAdjust="spacingAndGlyphs" stroke="#0a0a0a" stroke-width="0.12">E14.5 FL</text>
<text x="31.70" y="479.45" font-size="10.55" fill="#0a0a0a" textLength="58.70" lengthAdjust="spacingAndGlyphs" stroke="#0a0a0a" stroke-width="0.12">KSLs/CMPs</text>
<text x="52.90" y="495.05" font-size="10.55" fill="#0a0a0a" textLength="157.70" lengthAdjust="spacingAndGlyphs" stroke="#0a0a0a" stroke-width="0.12">(Liquid medium; SCF, IL-3, OSM)</text>
<line x1="104.20" y1="468.90" x2="133.30" y2="468.90" stroke="#0a0a0a" stroke-width="1.4"/>
<path d="M136.30 468.90 L130.90 466.00 L130.90 471.80 Z" fill="#0a0a0a"/>
<text x="110.50" y="463.75" font-size="10.55" fill="#0a0a0a" textLength="14.30" lengthAdjust="spacingAndGlyphs" stroke="#0a0a0a" stroke-width="0.12">1 d</text>
<text x="140.40" y="454.85" font-size="10.55" fill="#18508A" textLength="95.70" lengthAdjust="spacingAndGlyphs" stroke="#18508A" stroke-width="0.12">MOZ-TIF2-ires-GFP</text>
<text x="140.40" y="468.35" font-size="10.55" fill="#3CB54A" textLength="89.60" lengthAdjust="spacingAndGlyphs" stroke="#3CB54A" stroke-width="0.12">MLL-AF9-ires-GFP</text>
<text x="140.40" y="481.65" font-size="10.55" fill="#0a0a0a" textLength="39.00" lengthAdjust="spacingAndGlyphs" stroke="#0a0a0a" stroke-width="0.12">infection</text>
<line x1="242.30" y1="468.90" x2="280.20" y2="468.90" stroke="#0a0a0a" stroke-width="1.4"/>
<path d="M283.20 468.90 L277.80 466.00 L277.80 471.80 Z" fill="#0a0a0a"/>
<text x="245.60" y="464.05" font-size="10.55" fill="#0a0a0a" textLength="28.10" lengthAdjust="spacingAndGlyphs" stroke="#0a0a0a" stroke-width="0.12">6–8 d</text>
<text x="288.70" y="464.85" font-size="10.55" fill="#0a0a0a" textLength="53.80" lengthAdjust="spacingAndGlyphs" stroke="#0a0a0a" stroke-width="0.12">GFP+ cells</text>
<text x="288.70" y="478.45" font-size="10.55" fill="#0a0a0a" textLength="31.50" lengthAdjust="spacingAndGlyphs" stroke="#0a0a0a" stroke-width="0.12">sorting</text>
<line x1="347.20" y1="457.10" x2="376.60" y2="457.10" stroke="#0a0a0a" stroke-width="1.4"/>
<path d="M379.60 457.10 L374.20 454.20 L374.20 460.00 Z" fill="#0a0a0a"/>
<line x1="347.20" y1="480.10" x2="376.60" y2="480.10" stroke="#0a0a0a" stroke-width="1.4"/>
<path d="M379.60 480.10 L374.20 477.20 L374.20 483.00 Z" fill="#0a0a0a"/>
<text x="346.90" y="475.75" font-size="10.55" fill="#0a0a0a" textLength="27.80" lengthAdjust="spacingAndGlyphs" stroke="#0a0a0a" stroke-width="0.12">4–5 d</text>
<text x="384.60" y="460.65" font-size="10.55" fill="#0a0a0a" textLength="38.60" lengthAdjust="spacingAndGlyphs" stroke="#0a0a0a" stroke-width="0.12">RT-PCR</text>
<text x="384.60" y="484.05" font-size="10.55" fill="#0a0a0a" textLength="44.70" lengthAdjust="spacingAndGlyphs" stroke="#0a0a0a" stroke-width="0.12">Replating</text>
<text x="302.50" y="495.45" font-size="10.55" fill="#0a0a0a" textLength="120.00" lengthAdjust="spacingAndGlyphs" stroke="#0a0a0a" stroke-width="0.12">(Methylcellulose medium;</text>
<text x="302.50" y="507.95" font-size="10.55" fill="#0a0a0a" textLength="97.80" lengthAdjust="spacingAndGlyphs" stroke="#0a0a0a" stroke-width="0.12">SCF, IL-3, GM-CSF)</text>
<text x="0" y="0" transform="translate(31.10 584.30) rotate(-90)" font-size="13.5" fill="#18508A" text-anchor="middle" textLength="59.20" lengthAdjust="spacingAndGlyphs" stroke="#18508A" stroke-width="0.12">MOZ-TIF2</text>
<text x="0" y="0" transform="translate(49.10 584.50) rotate(-90)" font-size="13.4" fill="#0a0a0a" text-anchor="middle" textLength="60.90" lengthAdjust="spacingAndGlyphs" stroke="#0a0a0a" stroke-width="0.3">Colony number</text>
<line x1="92.50" y1="538.00" x2="92.50" y2="630.30" stroke="#0a0a0a" stroke-width="1.7"/>
<line x1="88.00" y1="543.25" x2="92.50" y2="543.25" stroke="#0a0a0a" stroke-width="1.5"/>
<text x="82.50" y="546.85" font-size="9.8" fill="#0a0a0a" text-anchor="end" textLength="24.69" lengthAdjust="spacingAndGlyphs" stroke="#0a0a0a" stroke-width="0.12">1000</text>
<line x1="88.00" y1="572.00" x2="92.50" y2="572.00" stroke="#0a0a0a" stroke-width="1.5"/>
<text x="82.50" y="575.60" font-size="9.8" fill="#0a0a0a" text-anchor="end" textLength="18.52" lengthAdjust="spacingAndGlyphs" stroke="#0a0a0a" stroke-width="0.12">100</text>
<line x1="88.00" y1="600.75" x2="92.50" y2="600.75" stroke="#0a0a0a" stroke-width="1.5"/>
<text x="82.50" y="604.35" font-size="9.8" fill="#0a0a0a" text-anchor="end" textLength="12.35" lengthAdjust="spacingAndGlyphs" stroke="#0a0a0a" stroke-width="0.12">10</text>
<line x1="88.00" y1="629.50" x2="92.50" y2="629.50" stroke="#0a0a0a" stroke-width="1.5"/>
<text x="82.50" y="633.10" font-size="9.8" fill="#0a0a0a" text-anchor="end" textLength="6.17" lengthAdjust="spacingAndGlyphs" stroke="#0a0a0a" stroke-width="0.12">1</text>
<line x1="91.70" y1="629.50" x2="257.70" y2="629.50" stroke="#0a0a0a" stroke-width="1.65"/>
<line x1="96.30" y1="535.90" x2="172.50" y2="535.90" stroke="#4F749C" stroke-width="1.3"/>
<line x1="176.50" y1="535.90" x2="257.20" y2="535.90" stroke="#79C596" stroke-width="1.3"/>
<text x="134.30" y="531.80" font-size="11" fill="#18508A" text-anchor="middle" textLength="26.00" lengthAdjust="spacingAndGlyphs" stroke="#18508A" stroke-width="0.12">KSLs</text>
<text x="216.80" y="531.80" font-size="11" fill="#3CB54A" text-anchor="middle" textLength="29.80" lengthAdjust="spacingAndGlyphs" stroke="#3CB54A" stroke-width="0.12">CMPs</text>
<rect x="96.30" y="566.30" width="6.45" height="63.20" fill="#3CB54A"/>
<line x1="99.52" y1="562.00" x2="99.52" y2="566.30" stroke="#0a0a0a" stroke-width="1.3"/>
<line x1="97.52" y1="562.00" x2="101.52" y2="562.00" stroke="#0a0a0a" stroke-width="1.3"/>
<rect x="102.75" y="556.30" width="6.45" height="73.20" fill="#59297C"/>
<line x1="105.97" y1="552.80" x2="105.97" y2="556.30" stroke="#0a0a0a" stroke-width="1.3"/>
<line x1="103.97" y1="552.80" x2="107.97" y2="552.80" stroke="#0a0a0a" stroke-width="1.3"/>
<rect x="109.20" y="562.50" width="6.45" height="67.00" fill="#F79312"/>
<line x1="112.42" y1="560.00" x2="112.42" y2="562.50" stroke="#0a0a0a" stroke-width="1.3"/>
<line x1="110.42" y1="560.00" x2="114.42" y2="560.00" stroke="#0a0a0a" stroke-width="1.3"/>
<rect x="123.80" y="560.00" width="6.45" height="69.50" fill="#3CB54A"/>
<line x1="127.02" y1="554.30" x2="127.02" y2="560.00" stroke="#0a0a0a" stroke-width="1.3"/>
<line x1="125.02" y1="554.30" x2="129.02" y2="554.30" stroke="#0a0a0a" stroke-width="1.3"/>
<rect x="130.25" y="558.80" width="6.45" height="70.70" fill="#59297C"/>
<line x1="133.47" y1="555.80" x2="133.47" y2="558.80" stroke="#0a0a0a" stroke-width="1.3"/>
<line x1="131.47" y1="555.80" x2="135.47" y2="555.80" stroke="#0a0a0a" stroke-width="1.3"/>
<rect x="136.70" y="560.00" width="6.45" height="69.50" fill="#F79312"/>
<line x1="139.92" y1="556.80" x2="139.92" y2="560.00" stroke="#0a0a0a" stroke-width="1.3"/>
<line x1="137.92" y1="556.80" x2="141.92" y2="556.80" stroke="#0a0a0a" stroke-width="1.3"/>
<rect x="151.30" y="571.30" width="6.45" height="58.20" fill="#3CB54A"/>
<line x1="154.53" y1="568.30" x2="154.53" y2="571.30" stroke="#0a0a0a" stroke-width="1.3"/>
<line x1="152.53" y1="568.30" x2="156.53" y2="568.30" stroke="#0a0a0a" stroke-width="1.3"/>
<rect x="157.75" y="564.50" width="6.45" height="65.00" fill="#59297C"/>
<line x1="160.97" y1="562.50" x2="160.97" y2="564.50" stroke="#0a0a0a" stroke-width="1.3"/>
<line x1="158.97" y1="562.50" x2="162.97" y2="562.50" stroke="#0a0a0a" stroke-width="1.3"/>
<rect x="164.20" y="574.50" width="6.45" height="55.00" fill="#F79312"/>
<line x1="167.43" y1="569.30" x2="167.43" y2="574.50" stroke="#0a0a0a" stroke-width="1.3"/>
<line x1="165.43" y1="569.30" x2="169.43" y2="569.30" stroke="#0a0a0a" stroke-width="1.3"/>
<rect x="178.30" y="558.80" width="6.45" height="70.70" fill="#3CB54A"/>
<line x1="181.53" y1="551.80" x2="181.53" y2="558.80" stroke="#0a0a0a" stroke-width="1.3"/>
<line x1="179.53" y1="551.80" x2="183.53" y2="551.80" stroke="#0a0a0a" stroke-width="1.3"/>
<rect x="184.75" y="571.50" width="6.45" height="58.00" fill="#59297C"/>
<line x1="187.97" y1="566.80" x2="187.97" y2="571.50" stroke="#0a0a0a" stroke-width="1.3"/>
<line x1="185.97" y1="566.80" x2="189.97" y2="566.80" stroke="#0a0a0a" stroke-width="1.3"/>
<rect x="191.20" y="566.30" width="6.45" height="63.20" fill="#F79312"/>
<line x1="194.43" y1="562.00" x2="194.43" y2="566.30" stroke="#0a0a0a" stroke-width="1.3"/>
<line x1="192.43" y1="562.00" x2="196.43" y2="562.00" stroke="#0a0a0a" stroke-width="1.3"/>
<rect x="205.60" y="568.30" width="6.45" height="61.20" fill="#3CB54A"/>
<line x1="208.82" y1="557.50" x2="208.82" y2="568.30" stroke="#0a0a0a" stroke-width="1.3"/>
<line x1="206.82" y1="557.50" x2="210.82" y2="557.50" stroke="#0a0a0a" stroke-width="1.3"/>
<rect x="212.05" y="564.30" width="6.45" height="65.20" fill="#59297C"/>
<line x1="215.27" y1="558.80" x2="215.27" y2="564.30" stroke="#0a0a0a" stroke-width="1.3"/>
<line x1="213.27" y1="558.80" x2="217.27" y2="558.80" stroke="#0a0a0a" stroke-width="1.3"/>
<rect x="218.50" y="572.50" width="6.45" height="57.00" fill="#F79312"/>
<line x1="221.72" y1="565.50" x2="221.72" y2="572.50" stroke="#0a0a0a" stroke-width="1.3"/>
<line x1="219.72" y1="565.50" x2="223.72" y2="565.50" stroke="#0a0a0a" stroke-width="1.3"/>
<rect x="233.00" y="613.10" width="6.45" height="16.40" fill="#3CB54A"/>
<line x1="236.22" y1="602.50" x2="236.22" y2="613.10" stroke="#0a0a0a" stroke-width="1.3"/>
<line x1="234.22" y1="602.50" x2="238.22" y2="602.50" stroke="#0a0a0a" stroke-width="1.3"/>
<line x1="105.50" y1="629.50" x2="105.50" y2="633.70" stroke="#0a0a0a" stroke-width="1.4"/>
<line x1="133.00" y1="629.50" x2="133.00" y2="633.70" stroke="#0a0a0a" stroke-width="1.4"/>
<line x1="160.50" y1="629.50" x2="160.50" y2="633.70" stroke="#0a0a0a" stroke-width="1.4"/>
<line x1="188.00" y1="629.50" x2="188.00" y2="633.70" stroke="#0a0a0a" stroke-width="1.4"/>
<line x1="215.00" y1="629.50" x2="215.00" y2="633.70" stroke="#0a0a0a" stroke-width="1.4"/>
<line x1="242.50" y1="629.50" x2="242.50" y2="633.70" stroke="#0a0a0a" stroke-width="1.4"/>
<text x="89.60" y="644.20" font-size="8.3" fill="#C8102E" textLength="15.60" lengthAdjust="spacingAndGlyphs" stroke="#C8102E" stroke-width="0.12">Moz</text>
<text x="105.50" y="640.71" font-size="6.8" fill="#C8102E" textLength="9.60" lengthAdjust="spacingAndGlyphs" stroke="#C8102E" stroke-width="0.12">+/+</text>
<text x="118.80" y="644.20" font-size="8.3" fill="#3CB54A" textLength="15.60" lengthAdjust="spacingAndGlyphs" stroke="#3CB54A" stroke-width="0.12">Moz</text>
<text x="134.70" y="640.71" font-size="6.8" fill="#3CB54A" textLength="9.60" lengthAdjust="spacingAndGlyphs" stroke="#3CB54A" stroke-width="0.12">+/−</text>
<text x="147.00" y="644.20" font-size="8.3" fill="#18508A" textLength="15.60" lengthAdjust="spacingAndGlyphs" stroke="#18508A" stroke-width="0.12">Moz</text>
<text x="162.90" y="640.71" font-size="6.8" fill="#18508A" textLength="9.60" lengthAdjust="spacingAndGlyphs" stroke="#18508A" stroke-width="0.12">−/−</text>
<text x="176.50" y="644.20" font-size="8.3" fill="#C8102E" textLength="15.60" lengthAdjust="spacingAndGlyphs" stroke="#C8102E" stroke-width="0.12">Moz</text>
<text x="192.40" y="640.71" font-size="6.8" fill="#C8102E" textLength="9.60" lengthAdjust="spacingAndGlyphs" stroke="#C8102E" stroke-width="0.12">+/+</text>
<text x="204.80" y="644.20" font-size="8.3" fill="#3CB54A" textLength="15.60" lengthAdjust="spacingAndGlyphs" stroke="#3CB54A" stroke-width="0.12">Moz</text>
<text x="220.70" y="640.71" font-size="6.8" fill="#3CB54A" textLength="9.60" lengthAdjust="spacingAndGlyphs" stroke="#3CB54A" stroke-width="0.12">+/−</text>
<text x="233.80" y="644.20" font-size="8.3" fill="#18508A" textLength="15.60" lengthAdjust="spacingAndGlyphs" stroke="#18508A" stroke-width="0.12">Moz</text>
<text x="249.70" y="640.71" font-size="6.8" fill="#18508A" textLength="9.60" lengthAdjust="spacingAndGlyphs" stroke="#18508A" stroke-width="0.12">−/−</text>
<text x="0" y="0" transform="translate(285.90 584.00) rotate(-90)" font-size="13.5" fill="#3CB54A" text-anchor="middle" textLength="56.20" lengthAdjust="spacingAndGlyphs" stroke="#3CB54A" stroke-width="0.12">MLL–AF9</text>
<text x="0" y="0" transform="translate(303.90 584.50) rotate(-90)" font-size="13.4" fill="#0a0a0a" text-anchor="middle" textLength="60.90" lengthAdjust="spacingAndGlyphs" stroke="#0a0a0a" stroke-width="0.3">Colony number</text>
<line x1="352.50" y1="538.00" x2="352.50" y2="630.30" stroke="#0a0a0a" stroke-width="1.7"/>
<line x1="348.00" y1="543.74" x2="352.50" y2="543.74" stroke="#0a0a0a" stroke-width="1.5"/>
<text x="342.50" y="547.34" font-size="9.8" fill="#0a0a0a" text-anchor="end" textLength="30.87" lengthAdjust="spacingAndGlyphs" stroke="#0a0a0a" stroke-width="0.12">10000</text>
<line x1="348.00" y1="565.18" x2="352.50" y2="565.18" stroke="#0a0a0a" stroke-width="1.5"/>
<text x="342.50" y="568.78" font-size="9.8" fill="#0a0a0a" text-anchor="end" textLength="24.69" lengthAdjust="spacingAndGlyphs" stroke="#0a0a0a" stroke-width="0.12">1000</text>
<line x1="348.00" y1="586.62" x2="352.50" y2="586.62" stroke="#0a0a0a" stroke-width="1.5"/>
<text x="342.50" y="590.22" font-size="9.8" fill="#0a0a0a" text-anchor="end" textLength="18.52" lengthAdjust="spacingAndGlyphs" stroke="#0a0a0a" stroke-width="0.12">100</text>
<line x1="348.00" y1="608.06" x2="352.50" y2="608.06" stroke="#0a0a0a" stroke-width="1.5"/>
<text x="342.50" y="611.66" font-size="9.8" fill="#0a0a0a" text-anchor="end" textLength="12.35" lengthAdjust="spacingAndGlyphs" stroke="#0a0a0a" stroke-width="0.12">10</text>
<line x1="348.00" y1="629.50" x2="352.50" y2="629.50" stroke="#0a0a0a" stroke-width="1.5"/>
<text x="342.50" y="633.10" font-size="9.8" fill="#0a0a0a" text-anchor="end" textLength="6.17" lengthAdjust="spacingAndGlyphs" stroke="#0a0a0a" stroke-width="0.12">1</text>
<line x1="351.70" y1="629.50" x2="518.30" y2="629.50" stroke="#0a0a0a" stroke-width="1.65"/>
<line x1="356.30" y1="535.90" x2="433.00" y2="535.90" stroke="#4F749C" stroke-width="1.3"/>
<line x1="437.50" y1="535.90" x2="517.50" y2="535.90" stroke="#79C596" stroke-width="1.3"/>
<text x="394.50" y="531.80" font-size="11" fill="#18508A" text-anchor="middle" textLength="26.00" lengthAdjust="spacingAndGlyphs" stroke="#18508A" stroke-width="0.12">KSLs</text>
<text x="477.50" y="531.80" font-size="11" fill="#3CB54A" text-anchor="middle" textLength="29.80" lengthAdjust="spacingAndGlyphs" stroke="#3CB54A" stroke-width="0.12">CMPs</text>
<rect x="356.30" y="579.30" width="6.60" height="50.20" fill="#3CB54A"/>
<line x1="359.60" y1="571.80" x2="359.60" y2="579.30" stroke="#0a0a0a" stroke-width="1.3"/>
<line x1="357.60" y1="571.80" x2="361.60" y2="571.80" stroke="#0a0a0a" stroke-width="1.3"/>
<rect x="362.90" y="568.80" width="6.60" height="60.70" fill="#59297C"/>
<line x1="366.20" y1="561.30" x2="366.20" y2="568.80" stroke="#0a0a0a" stroke-width="1.3"/>
<line x1="364.20" y1="561.30" x2="368.20" y2="561.30" stroke="#0a0a0a" stroke-width="1.3"/>
<rect x="369.50" y="567.50" width="6.60" height="62.00" fill="#F79312"/>
<line x1="372.80" y1="562.00" x2="372.80" y2="567.50" stroke="#0a0a0a" stroke-width="1.3"/>
<line x1="370.80" y1="562.00" x2="374.80" y2="562.00" stroke="#0a0a0a" stroke-width="1.3"/>
<rect x="383.80" y="577.00" width="6.60" height="52.50" fill="#3CB54A"/>
<line x1="387.10" y1="574.30" x2="387.10" y2="577.00" stroke="#0a0a0a" stroke-width="1.3"/>
<line x1="385.10" y1="574.30" x2="389.10" y2="574.30" stroke="#0a0a0a" stroke-width="1.3"/>
<rect x="390.40" y="571.80" width="6.60" height="57.70" fill="#59297C"/>
<line x1="393.70" y1="566.30" x2="393.70" y2="571.80" stroke="#0a0a0a" stroke-width="1.3"/>
<line x1="391.70" y1="566.30" x2="395.70" y2="566.30" stroke="#0a0a0a" stroke-width="1.3"/>
<rect x="397.00" y="563.30" width="6.60" height="66.20" fill="#F79312"/>
<line x1="400.30" y1="560.50" x2="400.30" y2="563.30" stroke="#0a0a0a" stroke-width="1.3"/>
<line x1="398.30" y1="560.50" x2="402.30" y2="560.50" stroke="#0a0a0a" stroke-width="1.3"/>
<rect x="411.30" y="583.30" width="6.60" height="46.20" fill="#3CB54A"/>
<line x1="414.60" y1="578.30" x2="414.60" y2="583.30" stroke="#0a0a0a" stroke-width="1.3"/>
<line x1="412.60" y1="578.30" x2="416.60" y2="578.30" stroke="#0a0a0a" stroke-width="1.3"/>
<rect x="417.90" y="613.00" width="6.60" height="16.50" fill="#59297C"/>
<line x1="421.20" y1="603.80" x2="421.20" y2="613.00" stroke="#0a0a0a" stroke-width="1.3"/>
<line x1="419.20" y1="603.80" x2="423.20" y2="603.80" stroke="#0a0a0a" stroke-width="1.3"/>
<line x1="427.80" y1="618.30" x2="427.80" y2="629.50" stroke="#0a0a0a" stroke-width="1.3"/>
<line x1="425.80" y1="618.30" x2="429.80" y2="618.30" stroke="#0a0a0a" stroke-width="1.3"/>
<rect x="438.30" y="583.00" width="6.60" height="46.50" fill="#3CB54A"/>
<line x1="441.60" y1="577.50" x2="441.60" y2="583.00" stroke="#0a0a0a" stroke-width="1.3"/>
<line x1="439.60" y1="577.50" x2="443.60" y2="577.50" stroke="#0a0a0a" stroke-width="1.3"/>
<rect x="444.90" y="570.00" width="6.60" height="59.50" fill="#59297C"/>
<line x1="448.20" y1="563.80" x2="448.20" y2="570.00" stroke="#0a0a0a" stroke-width="1.3"/>
<line x1="446.20" y1="563.80" x2="450.20" y2="563.80" stroke="#0a0a0a" stroke-width="1.3"/>
<rect x="451.50" y="575.50" width="6.60" height="54.00" fill="#F79312"/>
<line x1="454.80" y1="569.50" x2="454.80" y2="575.50" stroke="#0a0a0a" stroke-width="1.3"/>
<line x1="452.80" y1="569.50" x2="456.80" y2="569.50" stroke="#0a0a0a" stroke-width="1.3"/>
<rect x="465.80" y="588.30" width="6.60" height="41.20" fill="#3CB54A"/>
<line x1="469.10" y1="583.30" x2="469.10" y2="588.30" stroke="#0a0a0a" stroke-width="1.3"/>
<line x1="467.10" y1="583.30" x2="471.10" y2="583.30" stroke="#0a0a0a" stroke-width="1.3"/>
<rect x="472.40" y="575.50" width="6.60" height="54.00" fill="#59297C"/>
<line x1="475.70" y1="571.80" x2="475.70" y2="575.50" stroke="#0a0a0a" stroke-width="1.3"/>
<line x1="473.70" y1="571.80" x2="477.70" y2="571.80" stroke="#0a0a0a" stroke-width="1.3"/>
<rect x="479.00" y="570.80" width="6.60" height="58.70" fill="#F79312"/>
<line x1="482.30" y1="569.30" x2="482.30" y2="570.80" stroke="#0a0a0a" stroke-width="1.3"/>
<line x1="480.30" y1="569.30" x2="484.30" y2="569.30" stroke="#0a0a0a" stroke-width="1.3"/>
<line x1="366.30" y1="629.50" x2="366.30" y2="633.70" stroke="#0a0a0a" stroke-width="1.4"/>
<line x1="393.50" y1="629.50" x2="393.50" y2="633.70" stroke="#0a0a0a" stroke-width="1.4"/>
<line x1="420.80" y1="629.50" x2="420.80" y2="633.70" stroke="#0a0a0a" stroke-width="1.4"/>
<line x1="448.00" y1="629.50" x2="448.00" y2="633.70" stroke="#0a0a0a" stroke-width="1.4"/>
<line x1="475.80" y1="629.50" x2="475.80" y2="633.70" stroke="#0a0a0a" stroke-width="1.4"/>
<line x1="502.50" y1="629.50" x2="502.50" y2="633.70" stroke="#0a0a0a" stroke-width="1.4"/>
<text x="349.30" y="644.20" font-size="8.3" fill="#C8102E" textLength="15.60" lengthAdjust="spacingAndGlyphs" stroke="#C8102E" stroke-width="0.12">Moz</text>
<text x="365.20" y="640.71" font-size="6.8" fill="#C8102E" textLength="9.60" lengthAdjust="spacingAndGlyphs" stroke="#C8102E" stroke-width="0.12">+/+</text>
<text x="380.00" y="644.20" font-size="8.3" fill="#3CB54A" textLength="15.60" lengthAdjust="spacingAndGlyphs" stroke="#3CB54A" stroke-width="0.12">Moz</text>
<text x="395.90" y="640.71" font-size="6.8" fill="#3CB54A" textLength="9.60" lengthAdjust="spacingAndGlyphs" stroke="#3CB54A" stroke-width="0.12">+/−</text>
<text x="408.20" y="644.20" font-size="8.3" fill="#18508A" textLength="15.60" lengthAdjust="spacingAndGlyphs" stroke="#18508A" stroke-width="0.12">Moz</text>
<text x="424.10" y="640.71" font-size="6.8" fill="#18508A" textLength="9.60" lengthAdjust="spacingAndGlyphs" stroke="#18508A" stroke-width="0.12">−/−</text>
<text x="436.80" y="644.20" font-size="8.3" fill="#C8102E" textLength="15.60" lengthAdjust="spacingAndGlyphs" stroke="#C8102E" stroke-width="0.12">Moz</text>
<text x="452.70" y="640.71" font-size="6.8" fill="#C8102E" textLength="9.60" lengthAdjust="spacingAndGlyphs" stroke="#C8102E" stroke-width="0.12">+/+</text>
<text x="465.50" y="644.20" font-size="8.3" fill="#3CB54A" textLength="15.60" lengthAdjust="spacingAndGlyphs" stroke="#3CB54A" stroke-width="0.12">Moz</text>
<text x="481.40" y="640.71" font-size="6.8" fill="#3CB54A" textLength="9.60" lengthAdjust="spacingAndGlyphs" stroke="#3CB54A" stroke-width="0.12">+/−</text>
<text x="493.80" y="644.20" font-size="8.3" fill="#18508A" textLength="15.60" lengthAdjust="spacingAndGlyphs" stroke="#18508A" stroke-width="0.12">Moz</text>
<text x="509.70" y="640.71" font-size="6.8" fill="#18508A" textLength="9.60" lengthAdjust="spacingAndGlyphs" stroke="#18508A" stroke-width="0.12">−/−</text>
<rect x="216.20" y="657.40" width="7.00" height="7.10" fill="#3CB54A"/>
<text x="227.00" y="664.60" font-size="9.8" fill="#0a0a0a" stroke="#0a0a0a" stroke-width="0.12">1</text>
<text x="232.00" y="660.90" font-size="6.5" fill="#0a0a0a" stroke="#0a0a0a" stroke-width="0.12">st</text>
<text x="241.40" y="664.60" font-size="9.8" fill="#0a0a0a" textLength="24.80" lengthAdjust="spacingAndGlyphs" stroke="#0a0a0a" stroke-width="0.12">round</text>
<rect x="278.75" y="657.40" width="7.00" height="7.10" fill="#59297C"/>
<text x="289.35" y="664.60" font-size="9.8" fill="#0a0a0a" stroke="#0a0a0a" stroke-width="0.12">2</text>
<text x="295.55" y="660.90" font-size="6.5" fill="#0a0a0a" stroke="#0a0a0a" stroke-width="0.12">nd</text>
<text x="306.25" y="664.60" font-size="9.8" fill="#0a0a0a" textLength="24.80" lengthAdjust="spacingAndGlyphs" stroke="#0a0a0a" stroke-width="0.12">round</text>
<rect x="342.50" y="657.40" width="7.00" height="7.10" fill="#F79312"/>
<text x="353.60" y="664.60" font-size="9.8" fill="#0a0a0a" stroke="#0a0a0a" stroke-width="0.12">3</text>
<text x="360.00" y="660.90" font-size="6.5" fill="#0a0a0a" stroke="#0a0a0a" stroke-width="0.12">rd</text>
<text x="369.25" y="664.60" font-size="9.8" fill="#0a0a0a" textLength="24.80" lengthAdjust="spacingAndGlyphs" stroke="#0a0a0a" stroke-width="0.12">round</text>
<text x="1.00" y="701.30" font-size="15.6" fill="#000" font-weight="bold" stroke="#000" stroke-width="0.35">D</text>
<text x="113.00" y="702.20" font-size="13.3" fill="#18508A" textLength="58.50" lengthAdjust="spacingAndGlyphs" stroke="#18508A" stroke-width="0.12">MOZ-TIF2</text>
<text x="381.50" y="702.20" font-size="13.3" fill="#3CB54A" textLength="52.00" lengthAdjust="spacingAndGlyphs" stroke="#3CB54A" stroke-width="0.12">MLL-AF9</text>
<line x1="50.30" y1="723.70" x2="50.30" y2="842.50" stroke="#0a0a0a" stroke-width="1.7"/>
<line x1="45.80" y1="729.50" x2="50.30" y2="729.50" stroke="#0a0a0a" stroke-width="1.5"/>
<text x="40.30" y="733.10" font-size="9.8" fill="#0a0a0a" text-anchor="end" textLength="15.43" lengthAdjust="spacingAndGlyphs" stroke="#0a0a0a" stroke-width="0.12">1.2</text>
<line x1="45.80" y1="748.20" x2="50.30" y2="748.20" stroke="#0a0a0a" stroke-width="1.5"/>
<text x="40.30" y="751.80" font-size="9.8" fill="#0a0a0a" text-anchor="end" textLength="15.43" lengthAdjust="spacingAndGlyphs" stroke="#0a0a0a" stroke-width="0.12">1.0</text>
<line x1="45.80" y1="766.90" x2="50.30" y2="766.90" stroke="#0a0a0a" stroke-width="1.5"/>
<text x="40.30" y="770.50" font-size="9.8" fill="#0a0a0a" text-anchor="end" textLength="15.43" lengthAdjust="spacingAndGlyphs" stroke="#0a0a0a" stroke-width="0.12">0.8</text>
<line x1="45.80" y1="785.60" x2="50.30" y2="785.60" stroke="#0a0a0a" stroke-width="1.5"/>
<text x="40.30" y="789.20" font-size="9.8" fill="#0a0a0a" text-anchor="end" textLength="15.43" lengthAdjust="spacingAndGlyphs" stroke="#0a0a0a" stroke-width="0.12">0.6</text>
<line x1="45.80" y1="804.30" x2="50.30" y2="804.30" stroke="#0a0a0a" stroke-width="1.5"/>
<text x="40.30" y="807.90" font-size="9.8" fill="#0a0a0a" text-anchor="end" textLength="15.43" lengthAdjust="spacingAndGlyphs" stroke="#0a0a0a" stroke-width="0.12">0.4</text>
<line x1="45.80" y1="823.00" x2="50.30" y2="823.00" stroke="#0a0a0a" stroke-width="1.5"/>
<text x="40.30" y="826.60" font-size="9.8" fill="#0a0a0a" text-anchor="end" textLength="15.43" lengthAdjust="spacingAndGlyphs" stroke="#0a0a0a" stroke-width="0.12">0.2</text>
<line x1="45.80" y1="841.70" x2="50.30" y2="841.70" stroke="#0a0a0a" stroke-width="1.5"/>
<text x="40.30" y="845.30" font-size="9.8" fill="#0a0a0a" text-anchor="end" textLength="15.43" lengthAdjust="spacingAndGlyphs" stroke="#0a0a0a" stroke-width="0.12">0.0</text>
<line x1="49.50" y1="841.70" x2="121.80" y2="841.70" stroke="#0a0a0a" stroke-width="1.65"/>
<text x="85.80" y="718.80" font-size="10.2" fill="#C8102E" text-anchor="middle" textLength="31.50" lengthAdjust="spacingAndGlyphs" stroke="#C8102E" stroke-width="0.12">HoxA9</text>
<line x1="68.00" y1="841.70" x2="68.00" y2="846.00" stroke="#0a0a0a" stroke-width="1.4"/>
<line x1="100.00" y1="841.70" x2="100.00" y2="846.00" stroke="#0a0a0a" stroke-width="1.4"/>
<text x="68.00" y="858.40" font-size="10.4" fill="#18508A" text-anchor="middle" textLength="24.60" lengthAdjust="spacingAndGlyphs" stroke="#18508A" stroke-width="0.12">KSLs</text>
<text x="103.00" y="858.40" font-size="10.5" fill="#3CB54A" text-anchor="middle" textLength="28.75" lengthAdjust="spacingAndGlyphs" stroke="#3CB54A" stroke-width="0.12">CMPs</text>
<text x="0" y="0" transform="translate(13.90 783.50) rotate(-90)" font-size="13.4" fill="#0a0a0a" text-anchor="middle" textLength="60.00" lengthAdjust="spacingAndGlyphs" stroke="#0a0a0a" stroke-width="0.3">Values/β-actin</text>
<rect x="58.30" y="785.00" width="6.55" height="56.70" fill="#C8102E"/>
<line x1="61.57" y1="773.80" x2="61.57" y2="785.00" stroke="#0a0a0a" stroke-width="1.3"/>
<line x1="59.57" y1="773.80" x2="63.57" y2="773.80" stroke="#0a0a0a" stroke-width="1.3"/>
<rect x="64.85" y="764.50" width="6.55" height="77.20" fill="#3CB54A"/>
<line x1="68.12" y1="742.50" x2="68.12" y2="764.50" stroke="#0a0a0a" stroke-width="1.3"/>
<line x1="66.12" y1="742.50" x2="70.12" y2="742.50" stroke="#0a0a0a" stroke-width="1.3"/>
<rect x="71.40" y="793.30" width="6.55" height="48.40" fill="#18508A"/>
<line x1="74.67" y1="760.50" x2="74.67" y2="793.30" stroke="#0a0a0a" stroke-width="1.3"/>
<line x1="72.67" y1="760.50" x2="76.67" y2="760.50" stroke="#0a0a0a" stroke-width="1.3"/>
<rect x="93.80" y="821.30" width="6.55" height="20.40" fill="#C8102E"/>
<line x1="97.08" y1="805.50" x2="97.08" y2="821.30" stroke="#0a0a0a" stroke-width="1.3"/>
<line x1="95.08" y1="805.50" x2="99.08" y2="805.50" stroke="#0a0a0a" stroke-width="1.3"/>
<rect x="100.35" y="826.80" width="6.55" height="14.90" fill="#3CB54A"/>
<line x1="103.62" y1="812.50" x2="103.62" y2="826.80" stroke="#0a0a0a" stroke-width="1.3"/>
<line x1="101.62" y1="812.50" x2="105.62" y2="812.50" stroke="#0a0a0a" stroke-width="1.3"/>
<line x1="163.00" y1="723.70" x2="163.00" y2="842.50" stroke="#0a0a0a" stroke-width="1.7"/>
<line x1="158.50" y1="729.50" x2="163.00" y2="729.50" stroke="#0a0a0a" stroke-width="1.5"/>
<text x="153.00" y="733.10" font-size="9.8" fill="#0a0a0a" text-anchor="end" textLength="15.43" lengthAdjust="spacingAndGlyphs" stroke="#0a0a0a" stroke-width="0.12">4.0</text>
<line x1="158.50" y1="757.55" x2="163.00" y2="757.55" stroke="#0a0a0a" stroke-width="1.5"/>
<text x="153.00" y="761.15" font-size="9.8" fill="#0a0a0a" text-anchor="end" textLength="15.43" lengthAdjust="spacingAndGlyphs" stroke="#0a0a0a" stroke-width="0.12">3.0</text>
<line x1="158.50" y1="785.60" x2="163.00" y2="785.60" stroke="#0a0a0a" stroke-width="1.5"/>
<text x="153.00" y="789.20" font-size="9.8" fill="#0a0a0a" text-anchor="end" textLength="15.43" lengthAdjust="spacingAndGlyphs" stroke="#0a0a0a" stroke-width="0.12">2.0</text>
<line x1="158.50" y1="813.65" x2="163.00" y2="813.65" stroke="#0a0a0a" stroke-width="1.5"/>
<text x="153.00" y="817.25" font-size="9.8" fill="#0a0a0a" text-anchor="end" textLength="15.43" lengthAdjust="spacingAndGlyphs" stroke="#0a0a0a" stroke-width="0.12">1.0</text>
<line x1="158.50" y1="841.70" x2="163.00" y2="841.70" stroke="#0a0a0a" stroke-width="1.5"/>
<text x="153.00" y="845.30" font-size="9.8" fill="#0a0a0a" text-anchor="end" textLength="15.43" lengthAdjust="spacingAndGlyphs" stroke="#0a0a0a" stroke-width="0.12">0.0</text>
<line x1="162.20" y1="841.70" x2="233.80" y2="841.70" stroke="#0a0a0a" stroke-width="1.65"/>
<text x="198.30" y="718.80" font-size="10.2" fill="#18508A" text-anchor="middle" textLength="28.00" lengthAdjust="spacingAndGlyphs" stroke="#18508A" stroke-width="0.12">Meis1</text>
<line x1="180.50" y1="841.70" x2="180.50" y2="846.00" stroke="#0a0a0a" stroke-width="1.4"/>
<line x1="215.80" y1="841.70" x2="215.80" y2="846.00" stroke="#0a0a0a" stroke-width="1.4"/>
<text x="180.50" y="858.40" font-size="10.4" fill="#18508A" text-anchor="middle" textLength="24.60" lengthAdjust="spacingAndGlyphs" stroke="#18508A" stroke-width="0.12">KSLs</text>
<text x="216.60" y="858.40" font-size="10.5" fill="#3CB54A" text-anchor="middle" textLength="28.75" lengthAdjust="spacingAndGlyphs" stroke="#3CB54A" stroke-width="0.12">CMPs</text>
<rect x="170.80" y="776.30" width="6.55" height="65.40" fill="#C8102E"/>
<line x1="174.08" y1="771.80" x2="174.08" y2="776.30" stroke="#0a0a0a" stroke-width="1.3"/>
<line x1="172.08" y1="771.80" x2="176.08" y2="771.80" stroke="#0a0a0a" stroke-width="1.3"/>
<rect x="177.35" y="780.00" width="6.55" height="61.70" fill="#3CB54A"/>
<line x1="180.63" y1="752.00" x2="180.63" y2="780.00" stroke="#0a0a0a" stroke-width="1.3"/>
<line x1="178.63" y1="752.00" x2="182.63" y2="752.00" stroke="#0a0a0a" stroke-width="1.3"/>
<rect x="183.90" y="828.80" width="6.55" height="12.90" fill="#18508A"/>
<line x1="187.18" y1="818.30" x2="187.18" y2="828.80" stroke="#0a0a0a" stroke-width="1.3"/>
<line x1="185.18" y1="818.30" x2="189.18" y2="818.30" stroke="#0a0a0a" stroke-width="1.3"/>
<rect x="206.30" y="800.00" width="6.55" height="41.70" fill="#C8102E"/>
<line x1="209.58" y1="779.30" x2="209.58" y2="800.00" stroke="#0a0a0a" stroke-width="1.3"/>
<line x1="207.58" y1="779.30" x2="211.58" y2="779.30" stroke="#0a0a0a" stroke-width="1.3"/>
<rect x="212.85" y="800.00" width="6.55" height="41.70" fill="#3CB54A"/>
<line x1="216.13" y1="765.80" x2="216.13" y2="800.00" stroke="#0a0a0a" stroke-width="1.3"/>
<line x1="214.13" y1="765.80" x2="218.13" y2="765.80" stroke="#0a0a0a" stroke-width="1.3"/>
<rect x="219.40" y="840.00" width="6.55" height="1.70" fill="#18508A"/>
<line x1="222.68" y1="838.00" x2="222.68" y2="840.00" stroke="#0a0a0a" stroke-width="1.3"/>
<line x1="220.68" y1="838.00" x2="224.68" y2="838.00" stroke="#0a0a0a" stroke-width="1.3"/>
<line x1="173.30" y1="739.30" x2="192.00" y2="739.30" stroke="#0a0a0a" stroke-width="1.25"/>
<text x="182.65" y="738.20" font-size="8.6" fill="#0a0a0a" text-anchor="middle" font-weight="bold" textLength="7.85" lengthAdjust="spacing">**</text>
<line x1="179.20" y1="748.90" x2="192.00" y2="748.90" stroke="#0a0a0a" stroke-width="1.25"/>
<text x="185.60" y="747.80" font-size="8.6" fill="#0a0a0a" text-anchor="middle" font-weight="bold">*</text>
<line x1="315.00" y1="723.70" x2="315.00" y2="842.50" stroke="#0a0a0a" stroke-width="1.7"/>
<line x1="310.50" y1="729.50" x2="315.00" y2="729.50" stroke="#0a0a0a" stroke-width="1.5"/>
<text x="305.00" y="733.10" font-size="9.8" fill="#0a0a0a" text-anchor="end" textLength="15.43" lengthAdjust="spacingAndGlyphs" stroke="#0a0a0a" stroke-width="0.12">0.5</text>
<line x1="310.50" y1="751.94" x2="315.00" y2="751.94" stroke="#0a0a0a" stroke-width="1.5"/>
<text x="305.00" y="755.54" font-size="9.8" fill="#0a0a0a" text-anchor="end" textLength="15.43" lengthAdjust="spacingAndGlyphs" stroke="#0a0a0a" stroke-width="0.12">0.4</text>
<line x1="310.50" y1="774.38" x2="315.00" y2="774.38" stroke="#0a0a0a" stroke-width="1.5"/>
<text x="305.00" y="777.98" font-size="9.8" fill="#0a0a0a" text-anchor="end" textLength="15.43" lengthAdjust="spacingAndGlyphs" stroke="#0a0a0a" stroke-width="0.12">0.3</text>
<line x1="310.50" y1="796.82" x2="315.00" y2="796.82" stroke="#0a0a0a" stroke-width="1.5"/>
<text x="305.00" y="800.42" font-size="9.8" fill="#0a0a0a" text-anchor="end" textLength="15.43" lengthAdjust="spacingAndGlyphs" stroke="#0a0a0a" stroke-width="0.12">0.2</text>
<line x1="310.50" y1="819.26" x2="315.00" y2="819.26" stroke="#0a0a0a" stroke-width="1.5"/>
<text x="305.00" y="822.86" font-size="9.8" fill="#0a0a0a" text-anchor="end" textLength="15.43" lengthAdjust="spacingAndGlyphs" stroke="#0a0a0a" stroke-width="0.12">0.1</text>
<line x1="310.50" y1="841.70" x2="315.00" y2="841.70" stroke="#0a0a0a" stroke-width="1.5"/>
<text x="305.00" y="845.30" font-size="9.8" fill="#0a0a0a" text-anchor="end" textLength="15.43" lengthAdjust="spacingAndGlyphs" stroke="#0a0a0a" stroke-width="0.12">0.0</text>
<line x1="314.20" y1="841.70" x2="386.30" y2="841.70" stroke="#0a0a0a" stroke-width="1.65"/>
<text x="350.80" y="718.80" font-size="10.2" fill="#C8102E" text-anchor="middle" textLength="31.50" lengthAdjust="spacingAndGlyphs" stroke="#C8102E" stroke-width="0.12">HoxA9</text>
<line x1="333.00" y1="841.70" x2="333.00" y2="846.00" stroke="#0a0a0a" stroke-width="1.4"/>
<line x1="368.80" y1="841.70" x2="368.80" y2="846.00" stroke="#0a0a0a" stroke-width="1.4"/>
<text x="333.00" y="858.40" font-size="10.4" fill="#18508A" text-anchor="middle" textLength="24.60" lengthAdjust="spacingAndGlyphs" stroke="#18508A" stroke-width="0.12">KSLs</text>
<text x="368.80" y="858.40" font-size="10.5" fill="#3CB54A" text-anchor="middle" textLength="28.75" lengthAdjust="spacingAndGlyphs" stroke="#3CB54A" stroke-width="0.12">CMPs</text>
<text x="0" y="0" transform="translate(278.70 783.50) rotate(-90)" font-size="13.4" fill="#0a0a0a" text-anchor="middle" textLength="60.00" lengthAdjust="spacingAndGlyphs" stroke="#0a0a0a" stroke-width="0.3">Values/β-actin</text>
<rect x="323.30" y="798.80" width="6.55" height="42.90" fill="#C8102E"/>
<line x1="326.57" y1="776.30" x2="326.57" y2="798.80" stroke="#0a0a0a" stroke-width="1.3"/>
<line x1="324.57" y1="776.30" x2="328.57" y2="776.30" stroke="#0a0a0a" stroke-width="1.3"/>
<rect x="329.85" y="778.80" width="6.55" height="62.90" fill="#3CB54A"/>
<line x1="333.12" y1="753.80" x2="333.12" y2="778.80" stroke="#0a0a0a" stroke-width="1.3"/>
<line x1="331.12" y1="753.80" x2="335.12" y2="753.80" stroke="#0a0a0a" stroke-width="1.3"/>
<rect x="336.40" y="800.00" width="6.55" height="41.70" fill="#18508A"/>
<line x1="339.68" y1="786.80" x2="339.68" y2="800.00" stroke="#0a0a0a" stroke-width="1.3"/>
<line x1="337.68" y1="786.80" x2="341.68" y2="786.80" stroke="#0a0a0a" stroke-width="1.3"/>
<rect x="358.80" y="818.30" width="6.55" height="23.40" fill="#C8102E"/>
<line x1="362.07" y1="805.80" x2="362.07" y2="818.30" stroke="#0a0a0a" stroke-width="1.3"/>
<line x1="360.07" y1="805.80" x2="364.07" y2="805.80" stroke="#0a0a0a" stroke-width="1.3"/>
<rect x="365.35" y="824.50" width="6.55" height="17.20" fill="#3CB54A"/>
<line x1="368.62" y1="813.80" x2="368.62" y2="824.50" stroke="#0a0a0a" stroke-width="1.3"/>
<line x1="366.62" y1="813.80" x2="370.62" y2="813.80" stroke="#0a0a0a" stroke-width="1.3"/>
<rect x="371.90" y="841.30" width="6.55" height="0.40" fill="#18508A"/>
<line x1="375.18" y1="839.30" x2="375.18" y2="841.30" stroke="#0a0a0a" stroke-width="1.3"/>
<line x1="373.18" y1="839.30" x2="377.18" y2="839.30" stroke="#0a0a0a" stroke-width="1.3"/>
<line x1="363.30" y1="793.00" x2="381.30" y2="793.00" stroke="#0a0a0a" stroke-width="1.25"/>
<text x="372.30" y="791.90" font-size="8.6" fill="#0a0a0a" text-anchor="middle" font-weight="bold">*</text>
<line x1="368.30" y1="809.30" x2="380.50" y2="809.30" stroke="#0a0a0a" stroke-width="1.25"/>
<text x="374.40" y="808.20" font-size="8.6" fill="#0a0a0a" text-anchor="middle" font-weight="bold">*</text>
<line x1="427.50" y1="723.70" x2="427.50" y2="842.50" stroke="#0a0a0a" stroke-width="1.7"/>
<line x1="423.00" y1="729.50" x2="427.50" y2="729.50" stroke="#0a0a0a" stroke-width="1.5"/>
<text x="417.50" y="733.10" font-size="9.8" fill="#0a0a0a" text-anchor="end" textLength="15.43" lengthAdjust="spacingAndGlyphs" stroke="#0a0a0a" stroke-width="0.12">2.0</text>
<line x1="423.00" y1="757.55" x2="427.50" y2="757.55" stroke="#0a0a0a" stroke-width="1.5"/>
<text x="417.50" y="761.15" font-size="9.8" fill="#0a0a0a" text-anchor="end" textLength="15.43" lengthAdjust="spacingAndGlyphs" stroke="#0a0a0a" stroke-width="0.12">1.5</text>
<line x1="423.00" y1="785.60" x2="427.50" y2="785.60" stroke="#0a0a0a" stroke-width="1.5"/>
<text x="417.50" y="789.20" font-size="9.8" fill="#0a0a0a" text-anchor="end" textLength="15.43" lengthAdjust="spacingAndGlyphs" stroke="#0a0a0a" stroke-width="0.12">1.0</text>
<line x1="423.00" y1="813.65" x2="427.50" y2="813.65" stroke="#0a0a0a" stroke-width="1.5"/>
<text x="417.50" y="817.25" font-size="9.8" fill="#0a0a0a" text-anchor="end" textLength="15.43" lengthAdjust="spacingAndGlyphs" stroke="#0a0a0a" stroke-width="0.12">0.5</text>
<line x1="423.00" y1="841.70" x2="427.50" y2="841.70" stroke="#0a0a0a" stroke-width="1.5"/>
<text x="417.50" y="845.30" font-size="9.8" fill="#0a0a0a" text-anchor="end" textLength="15.43" lengthAdjust="spacingAndGlyphs" stroke="#0a0a0a" stroke-width="0.12">0.0</text>
<line x1="426.70" y1="841.70" x2="498.80" y2="841.70" stroke="#0a0a0a" stroke-width="1.65"/>
<text x="463.30" y="718.80" font-size="10.2" fill="#18508A" text-anchor="middle" textLength="28.00" lengthAdjust="spacingAndGlyphs" stroke="#18508A" stroke-width="0.12">Meis1</text>
<line x1="445.50" y1="841.70" x2="445.50" y2="846.00" stroke="#0a0a0a" stroke-width="1.4"/>
<line x1="481.30" y1="841.70" x2="481.30" y2="846.00" stroke="#0a0a0a" stroke-width="1.4"/>
<text x="445.50" y="858.40" font-size="10.4" fill="#18508A" text-anchor="middle" textLength="24.60" lengthAdjust="spacingAndGlyphs" stroke="#18508A" stroke-width="0.12">KSLs</text>
<text x="481.30" y="858.40" font-size="10.5" fill="#3CB54A" text-anchor="middle" textLength="28.75" lengthAdjust="spacingAndGlyphs" stroke="#3CB54A" stroke-width="0.12">CMPs</text>
<rect x="435.80" y="784.50" width="6.55" height="57.20" fill="#C8102E"/>
<line x1="439.07" y1="758.00" x2="439.07" y2="784.50" stroke="#0a0a0a" stroke-width="1.3"/>
<line x1="437.07" y1="758.00" x2="441.07" y2="758.00" stroke="#0a0a0a" stroke-width="1.3"/>
<rect x="442.35" y="793.30" width="6.55" height="48.40" fill="#3CB54A"/>
<line x1="445.62" y1="780.50" x2="445.62" y2="793.30" stroke="#0a0a0a" stroke-width="1.3"/>
<line x1="443.62" y1="780.50" x2="447.62" y2="780.50" stroke="#0a0a0a" stroke-width="1.3"/>
<rect x="448.90" y="820.50" width="6.55" height="21.20" fill="#18508A"/>
<line x1="452.18" y1="802.00" x2="452.18" y2="820.50" stroke="#0a0a0a" stroke-width="1.3"/>
<line x1="450.18" y1="802.00" x2="454.18" y2="802.00" stroke="#0a0a0a" stroke-width="1.3"/>
<rect x="471.30" y="792.00" width="6.55" height="49.70" fill="#C8102E"/>
<line x1="474.57" y1="777.50" x2="474.57" y2="792.00" stroke="#0a0a0a" stroke-width="1.3"/>
<line x1="472.57" y1="777.50" x2="476.57" y2="777.50" stroke="#0a0a0a" stroke-width="1.3"/>
<rect x="477.85" y="813.80" width="6.55" height="27.90" fill="#3CB54A"/>
<line x1="481.12" y1="804.50" x2="481.12" y2="813.80" stroke="#0a0a0a" stroke-width="1.3"/>
<line x1="479.12" y1="804.50" x2="483.12" y2="804.50" stroke="#0a0a0a" stroke-width="1.3"/>
<rect x="484.40" y="835.80" width="6.55" height="5.90" fill="#18508A"/>
<line x1="487.68" y1="832.00" x2="487.68" y2="835.80" stroke="#0a0a0a" stroke-width="1.3"/>
<line x1="485.68" y1="832.00" x2="489.68" y2="832.00" stroke="#0a0a0a" stroke-width="1.3"/>
<line x1="445.00" y1="777.30" x2="458.00" y2="777.30" stroke="#0a0a0a" stroke-width="1.25"/>
<text x="451.50" y="776.20" font-size="8.6" fill="#0a0a0a" text-anchor="middle" font-weight="bold">*</text>
<line x1="473.00" y1="765.00" x2="491.30" y2="765.00" stroke="#0a0a0a" stroke-width="1.25"/>
<text x="482.15" y="763.90" font-size="8.6" fill="#0a0a0a" text-anchor="middle" font-weight="bold" textLength="7.85" lengthAdjust="spacing">**</text>
<line x1="473.00" y1="773.30" x2="484.50" y2="773.30" stroke="#0a0a0a" stroke-width="1.25"/>
<text x="478.75" y="772.20" font-size="8.6" fill="#0a0a0a" text-anchor="middle" font-weight="bold">*</text>
<line x1="480.50" y1="801.30" x2="492.50" y2="801.30" stroke="#0a0a0a" stroke-width="1.25"/>
<text x="486.50" y="800.20" font-size="8.6" fill="#0a0a0a" text-anchor="middle" font-weight="bold" textLength="7.85" lengthAdjust="spacing">**</text>
</svg>
</body></html>
